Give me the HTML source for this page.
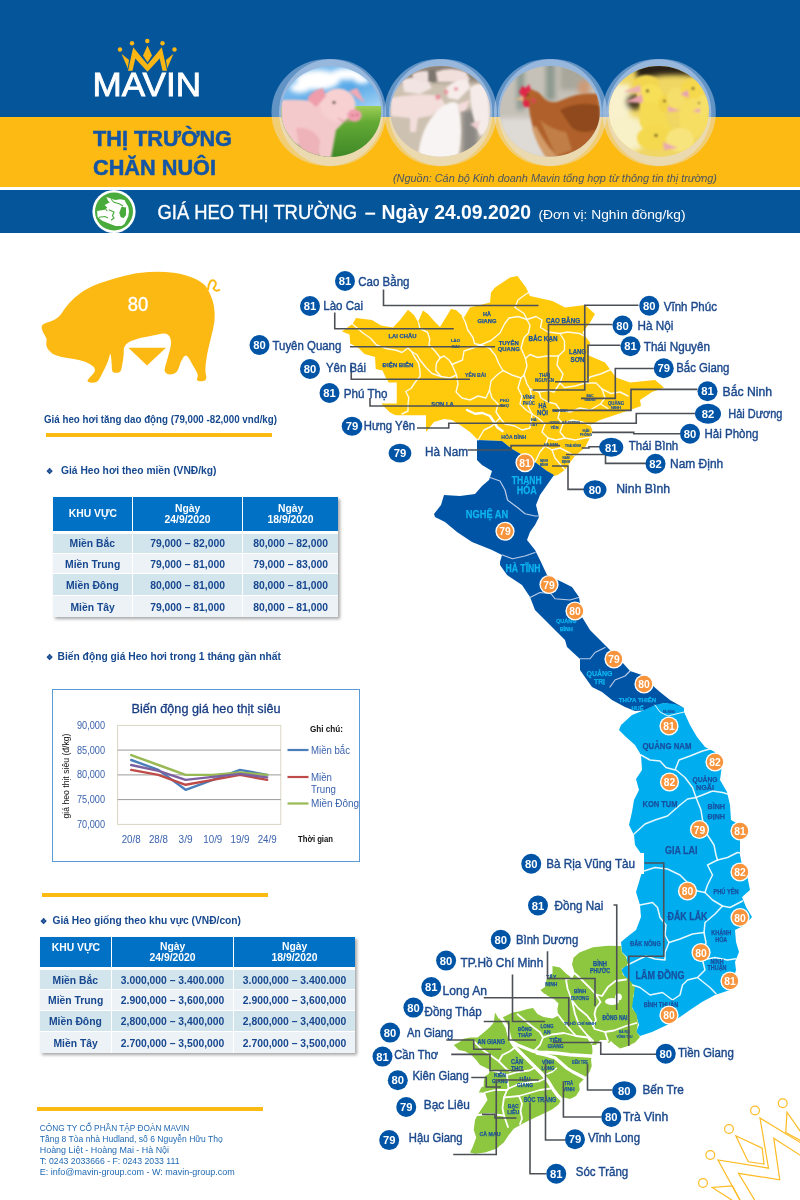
<!DOCTYPE html>
<html lang="vi">
<head>
<meta charset="utf-8">
<title>Mavin - Thị trường chăn nuôi - Giá heo thị trường 24.09.2020</title>
<style>
*{box-sizing:border-box;margin:0;padding:0}
html,body{width:800px;height:1200px;background:#fff;overflow:hidden}
body{font-family:"Liberation Sans",sans-serif;position:relative;color:#17478f}
.abs{position:absolute}
.c{display:inline-block;white-space:nowrap;transform-origin:0 50%}
#hd-blue{left:0;top:0;width:800px;height:117px;background:#05559b}
#hd-yel{left:0;top:117px;width:800px;height:70px;background:#fcba13}
#bar{left:0;top:190px;width:800px;height:43px;background:#05559b}
#mavin{left:92px;top:70px;font-size:31px;font-weight:bold;color:#fff;line-height:30px;letter-spacing:-0.5px}
#tt1,#tt2{left:93px;font-size:21.5px;font-weight:bold;color:#05559b;line-height:24px}
#tt1{top:127px}#tt2{top:155px}
#src{left:393px;top:171px;font-size:10.5px;font-style:italic;color:#4d5662;line-height:14px;letter-spacing:.3px}
#ttl{left:157px;top:200px;color:#fff;font-size:20px;line-height:24px}
#ttl b{font-weight:bold}
#ttl small{font-size:12.5px;font-weight:normal}
.h{font-size:11.5px;font-weight:bold;color:#17478f;line-height:14px}
.yl{height:4px;background:#fcba13}
table{border-collapse:separate;border-spacing:0;table-layout:fixed;box-shadow:2px 2px 3px rgba(0,0,0,.35)}
td,th{text-align:center;font-size:11.5px;font-weight:bold;color:#17478f;white-space:nowrap;overflow:hidden;padding:0}
th{background:#0071c5;color:#fff;line-height:11px;border-right:1.5px solid #fff;border-bottom:3.2px solid #fff}
td{border-right:1.5px solid #fff;border-bottom:1px solid #fff}
tr:nth-child(even) td{background:#d2e4ec}
tr:nth-child(odd) td{background:#ecf2f6}
th:last-child,td:last-child{border-right:0}
tr:last-child td{border-bottom:0}
td span,th span{display:inline-block;transform:scaleX(.9)}
#ft{left:40px;top:1122px;font-size:9.5px;line-height:11px;color:#1c6db5}
#ft span{display:block;white-space:nowrap;transform-origin:0 50%;transform:scaleX(.88)}
svg text{font-family:"Liberation Sans",sans-serif}
</style>
</head>
<body>
<!-- header -->
<div class="abs" id="hd-blue"></div>
<div class="abs" id="hd-yel"></div>
<div class="abs" id="bar"></div>

<!-- left column -->
<div class="abs yl" style="left:46px;top:433px;width:226px"></div>

<table class="abs" style="left:53px;top:497px;width:285px">
<colgroup><col style="width:80px"><col style="width:110px"><col style="width:95px"></colgroup>
<tr style="height:36.5px"><th><span>KHU VỰC</span></th><th><span>Ngày<br>24/9/2020</span></th><th><span>Ngày<br>18/9/2020</span></th></tr>
<tr style="height:20.4px"><td><span>Miền Bắc</span></td><td><span>79,000 – 82,000</span></td><td><span>80,000 – 82,000</span></td></tr>
<tr style="height:20.6px"><td><span>Miền Trung</span></td><td><span>79,000 – 81,000</span></td><td><span>79,000 – 83,000</span></td></tr>
<tr style="height:21.8px"><td><span>Miền Đông</span></td><td><span>80,000 – 81,000</span></td><td><span>80,000 – 81,000</span></td></tr>
<tr style="height:21.2px"><td><span>Miền Tây</span></td><td><span>79,000 – 81,000</span></td><td><span>80,000 – 81,000</span></td></tr>
</table>


<div class="abs yl" style="left:42px;top:893px;width:226px"></div>

<table class="abs" id="tb2" style="left:40px;top:937px;width:315px">
<colgroup><col style="width:72px"><col style="width:122px"><col style="width:121px"></colgroup>
<tr style="height:33.4px"><th style="vertical-align:top;padding-top:4.5px"><span>KHU VỰC</span></th><th><span>Ngày<br>24/9/2020</span></th><th><span>Ngày<br>18/9/2020</span></th></tr>
<tr style="height:19.4px"><td><span>Miền Bắc</span></td><td><span>3.000,000 – 3.400.000</span></td><td><span>3.000,000 – 3.400.000</span></td></tr>
<tr style="height:21.5px"><td><span>Miền Trung</span></td><td><span>2.900,000 – 3,600,000</span></td><td><span>2.900,000 – 3,600,000</span></td></tr>
<tr style="height:21px"><td><span>Miền Đông</span></td><td><span>2,800,000 – 3,400,000</span></td><td><span>2,800,000 – 3,400,000</span></td></tr>
<tr style="height:21px"><td><span>Miền Tây</span></td><td><span>2.700,000 – 3,500,000</span></td><td><span>2.700,000 – 3,500,000</span></td></tr>
</table>

<div class="abs yl" style="left:37px;top:1107px;width:226px"></div>

<!-- GRAPHICS -->
<svg class="abs" id="gfx" style="left:0;top:0" width="800" height="1200" viewBox="0 0 800 1200">
<defs>
<clipPath id="cp1"><ellipse cx="331.2" cy="111.6" rx="50" ry="45.3"/></clipPath>
<clipPath id="cp2"><ellipse cx="440.4" cy="111.4" rx="50" ry="45.3"/></clipPath>
<clipPath id="cp3"><ellipse cx="550" cy="111.4" rx="50" ry="45.3"/></clipPath>
<clipPath id="cp4"><ellipse cx="658.8" cy="111.4" rx="50" ry="45.3"/></clipPath>
<linearGradient id="sky" x1="0" y1="0" x2="1" y2="1"><stop offset="0" stop-color="#9ccdf3"/><stop offset=".6" stop-color="#56a8e8"/><stop offset="1" stop-color="#b9def7"/></linearGradient>
<linearGradient id="grass" x1="0" y1="0" x2="0" y2="1"><stop offset="0" stop-color="#9fce55"/><stop offset=".3" stop-color="#63aa35"/><stop offset="1" stop-color="#3c8526"/></linearGradient>
<filter id="b1" x="-20%" y="-20%" width="140%" height="140%"><feGaussianBlur stdDeviation="0.9"/></filter>
<filter id="b2" x="-20%" y="-20%" width="140%" height="140%"><feGaussianBlur stdDeviation="2.5"/></filter>
</defs>
<!-- translucent rings -->
<g fill="#e3e9ff" fill-opacity=".42">
<ellipse cx="327.5" cy="112.6" rx="56" ry="53.6"/><ellipse cx="332.5" cy="112.6" rx="53.5" ry="53.6"/>
<ellipse cx="438.4" cy="112.6" rx="54" ry="53.6"/><ellipse cx="442.9" cy="112.6" rx="54" ry="53.6"/>
<ellipse cx="548" cy="112.6" rx="54" ry="53.6"/><ellipse cx="552.5" cy="112.6" rx="54.5" ry="53.6"/>
<ellipse cx="656.8" cy="112.6" rx="54.5" ry="53.6"/><ellipse cx="661.3" cy="112.6" rx="54.5" ry="53.6"/>
</g>
<!-- photo 1 : pig on grass -->
<g clip-path="url(#cp1)">
<rect x="280" y="64" width="103" height="48" fill="url(#sky)"/>
<rect x="280" y="106" width="103" height="54" fill="url(#grass)"/>
<g filter="url(#b2)" fill="#fff"><ellipse cx="318" cy="80" rx="22" ry="10"/><ellipse cx="347" cy="74" rx="16" ry="6"/><ellipse cx="300" cy="88" rx="10" ry="5"/><ellipse cx="362" cy="80" rx="8" ry="4"/></g>
<g filter="url(#b1)">
<path d="M281 100 Q298 99 312 101 L326 96 L348 118 L336 130 L331 158 L319 158 L317 141 L305 149 L293 143 L281 126Z" fill="#f4c9cb"/>
<path d="M296 128 Q312 126 320 140 L318 158 L300 150Z" fill="#eeb2b9"/>
<ellipse cx="338" cy="105" rx="17.5" ry="16.5" fill="#f7d0d1"/>
<path d="M307 99 Q312 90 323 88 L326 96 L316 107 Z" fill="#ef9dab"/>
<path d="M349 91 L357 88 L365 103 L357 98 Z" fill="#f2a9b5"/>
<ellipse cx="354.5" cy="115.5" rx="7.2" ry="6.2" fill="#f19fb0"/>
<circle cx="352.5" cy="115.5" r="1" fill="#b5566c"/><circle cx="357" cy="115" r="1" fill="#b5566c"/>
<circle cx="334" cy="102.5" r="1.5" fill="#2a1c20"/>
<path d="M338 118 Q344 123 350 121" stroke="#d9899a" stroke-width="1" fill="none"/>
</g>
</g>
<!-- photo 2 : piglets -->
<g clip-path="url(#cp2)">
<rect x="389" y="64" width="103" height="96" fill="#cdc1b1"/>
<g filter="url(#b2)"><rect x="389" y="60" width="103" height="22" fill="#8e8378"/><rect x="462" y="110" width="16" height="50" fill="#8b8884"/></g>
<g filter="url(#b1)">
<path d="M391 98 Q420 92 440 96 L446 106 L430 116 L418 118 L416 132 L410 132 L410 118 L391 116Z" fill="#f3dedb"/>
<path d="M402 80 Q415 74 428 82 L432 88 L420 94 L404 92Z" fill="#f1e4e2"/>
<path d="M412 74 Q424 68 436 74 L430 84 L414 80Z" fill="#efe0de"/>
<path d="M436 72 Q450 66 466 72 L470 80 L452 82 L438 82Z" fill="#f1dfdc"/>
<path d="M446 88 Q456 78 468 80 L470 88 L458 100 L448 98Z" fill="#f6ecea"/>
<path d="M418 158 Q420 128 438 110 Q452 98 458 104 Q464 130 458 158Z" fill="#f8f4f3"/>
<path d="M470 88 Q480 80 486 88 Q492 110 488 132 L480 136 Q470 116 470 88Z" fill="#f5ecea"/>
<path d="M458 104 L470 100 L466 110 L460 112Z" fill="#f5dcdc"/>
<path d="M470 124 L480 120 L478 130Z" fill="#f0cfd0"/>
<circle cx="438" cy="97" r="2.6" fill="#e9909c"/><circle cx="446" cy="92" r="2.4" fill="#ea98a2"/><circle cx="456" cy="89" r="2" fill="#ea98a2"/>
<rect x="428" y="70" width="8" height="12" fill="#7d766e"/>
</g>
</g>
<!-- photo 3 : hen -->
<g clip-path="url(#cp3)">
<rect x="499" y="64" width="103" height="96" fill="#c6c1b8"/>
<g filter="url(#b2)"><rect x="499" y="118" width="60" height="44" fill="#dedad6"/><rect x="517" y="60" width="7" height="50" fill="#8a9a90"/><rect x="546" y="60" width="9" height="40" fill="#8b978d"/><rect x="560" y="60" width="30" height="30" fill="#a9a79c"/><ellipse cx="584" cy="88" rx="6" ry="8" fill="#cf9a74"/></g>
<g filter="url(#b1)">
<path d="M528 92 Q536 88 542 96 Q550 106 562 100 Q580 92 598 94 L602 128 Q598 150 582 160 L552 160 Q538 148 532 124 Q528 108 528 92Z" fill="#b0602b"/>
<path d="M560 110 Q580 100 600 106 L600 128 Q584 136 572 128Z" fill="#8f4a1e"/>
<path d="M536 126 Q548 150 562 160 L548 160 Q538 148 532 128Z" fill="#d19a66"/>
<path d="M540 120 Q552 130 566 132 L572 150 L556 156Z" fill="#c17f47"/>
<ellipse cx="530" cy="96" rx="6.5" ry="7" fill="#b4632c"/>
<path d="M519 92 L522 86 L526 88 L529 84 L531 90 L527 94 L524 100Z" fill="#e0284a"/>
<path d="M522 100 L529 100 L530 107 L524 107Z" fill="#dd2745"/>
<path d="M531 98 L536 100 L534 104Z" fill="#e63a5c"/>
<path d="M515 99 L523 96 L523 101Z" fill="#e6b88a"/>
<circle cx="527.5" cy="95" r="1" fill="#2a1a12"/>
</g>
</g>
<!-- photo 4 : ducklings -->
<g clip-path="url(#cp4)">
<rect x="608" y="64" width="103" height="96" fill="#f0d663"/>
<g filter="url(#b2)"><path d="M634 62 H694 V76 Q664 72 638 80Z" fill="#2a2212"/><rect x="606" y="84" width="24" height="60" fill="#f8f1cc"/><ellipse cx="628" cy="134" rx="20" ry="18" fill="#f8f0c6"/><ellipse cx="634" cy="102" rx="8" ry="8" fill="#4a3d20"/></g>
<g filter="url(#b1)">
<ellipse cx="646" cy="84" rx="13" ry="9" fill="#f2d650"/>
<ellipse cx="650" cy="96" rx="13" ry="12" fill="#f7df58"/>
<path d="M640 104 Q652 100 662 108 L672 130 L650 140 L640 124Z" fill="#f5da52"/>
<ellipse cx="666" cy="104" rx="8" ry="9" fill="#f3d548"/>
<ellipse cx="676" cy="98" rx="9" ry="11" fill="#f6de6a"/>
<ellipse cx="692" cy="90" rx="11" ry="11" fill="#f5d84c"/>
<ellipse cx="694" cy="118" rx="15" ry="20" fill="#f6de62"/>
<ellipse cx="703" cy="106" rx="7" ry="11" fill="#f7e068"/>
<ellipse cx="654" cy="138" rx="17" ry="12" fill="#f4d84e"/>
<ellipse cx="680" cy="140" rx="14" ry="12" fill="#f7e47c"/>
<path d="M623 92 L640 85 L641 93Z" fill="#eeb0b0"/><path d="M625 102 L642 94 L643 103Z" fill="#e9a3ac"/>
<path d="M663 142 L678 148 L664 150Z" fill="#ebaaae"/><path d="M668 106 L680 111 L668 112Z" fill="#ebaaae"/><path d="M688 90 L680 94 L689 98Z" fill="#e7a3b0"/><path d="M700 108 L692 111 L700 113Z" fill="#ebaaae"/>
<circle cx="647.5" cy="91" r="1.4" fill="#2a2214"/><circle cx="664.5" cy="101" r="1.2" fill="#2a2214"/><circle cx="656" cy="135.5" r="1.4" fill="#2a2214"/><circle cx="693" cy="88.5" r="1.3" fill="#2a2214"/><circle cx="699" cy="103" r="1" fill="#2a2214"/>
</g>
</g>

<g fill="#fab615">
<polygon points="128,70.8 133.2,47.2 147.5,64.5 161.8,47.2 167,70.8 162.5,70.8 159.7,58.5 147.5,71.8 135.3,58.5 132.5,70.8"/>
<polygon points="147.5,45.5 143,55.5 147.5,62.5 152,55.5"/>
<polygon points="121.5,53.8 129,60 127.8,68.5"/><polygon points="173.5,53.8 166,60 167.2,68.5"/>
<circle cx="120" cy="49.5" r="2.2"/><circle cx="132" cy="43.2" r="2.2"/><circle cx="147.3" cy="41" r="2.2"/><circle cx="162.5" cy="43.2" r="2.2"/><circle cx="174.5" cy="49.5" r="2.2"/>
</g>
<!-- bar icon -->
<circle cx="114" cy="211.5" r="21.6" fill="#fff"/>
<circle cx="114" cy="211.5" r="19" fill="#4aab3d"/>
<g transform="translate(84,185) scale(0.075)">
<path d="M175 345 L180 420 L215 455 L250 480 L300 500 L350 520 L420 545 L500 545 L540 520 L560 480 L590 420 L600 350 L590 290 L560 240 L540 200 L480 190 L420 200 L380 190 L300 160 L320 210 L345 230 L275 265 L310 300 L280 330Z" fill="#fff"/>
<path d="M500 290 L560 300 L560 400 L530 440 L490 430 L470 370Z" fill="#4aab3d"/>
<path d="M360 190 L400 230 L470 250 L520 280" stroke="#4aab3d" stroke-width="14" fill="none"/>
<path d="M200 430 L280 420 L320 440" stroke="#4aab3d" stroke-width="14" fill="none"/>
<path d="M330 330 L400 360 L380 410 L400 440 L360 470" stroke="#4aab3d" stroke-width="16" fill="none"/>
<path d="M290 320 L310 350" stroke="#4aab3d" stroke-width="14" fill="none"/>
</g>

<g font-weight="bold">
<text x="92.5" y="96.4" font-size="32.5" font-weight="normal" stroke="#fff" stroke-width=".8" fill="#fff" textLength="108.5" lengthAdjust="spacingAndGlyphs">MAVIN</text>
<text x="93" y="146" font-size="21.8" fill="#1455a5" stroke="#1455a5" stroke-width=".5" textLength="139" lengthAdjust="spacingAndGlyphs">THỊ TRƯỜNG</text>
<text x="93" y="175" font-size="21.8" fill="#1455a5" stroke="#1455a5" stroke-width=".5" textLength="123" lengthAdjust="spacingAndGlyphs">CHĂN NUÔI</text>
<text x="381.5" y="219.3" font-size="19.8" fill="#fff" textLength="149.5" lengthAdjust="spacingAndGlyphs">Ngày 24.09.2020</text>
<text x="44" y="422.8" font-size="11" fill="#15488f" textLength="233" lengthAdjust="spacingAndGlyphs">Giá heo hơi tăng dao động (79,000 -82,000 vnd/kg)</text>
<text x="46.2" y="474" font-size="8" fill="#15488f">❖</text>
<text x="61" y="474" font-size="11" fill="#15488f" textLength="155.5" lengthAdjust="spacingAndGlyphs">Giá Heo hơi theo miền (VNĐ/kg)</text>
<text x="46.2" y="660" font-size="8" fill="#15488f">❖</text>
<text x="57.5" y="660" font-size="11" fill="#15488f" textLength="223.5" lengthAdjust="spacingAndGlyphs">Biến động giá Heo hơi trong 1 tháng gần nhất</text>
<text x="39.5" y="924" font-size="8" fill="#15488f">❖</text>
<text x="52.5" y="924" font-size="11" fill="#15488f" textLength="188.5" lengthAdjust="spacingAndGlyphs">Giá Heo giống theo khu vực (VNĐ/con)</text>
</g>
<text x="157.5" y="219.3" font-size="19.8" fill="#fff" stroke="#fff" stroke-width=".35" textLength="199.5" lengthAdjust="spacingAndGlyphs">GIÁ HEO THỊ TRƯỜNG</text>
<text x="365.4" y="219.3" font-size="19.8" fill="#fff" stroke="#fff" stroke-width=".35" textLength="9.5" lengthAdjust="spacingAndGlyphs">–</text>
<text x="538.5" y="219" font-size="12" fill="#fff" textLength="147" lengthAdjust="spacingAndGlyphs">(Đơn vị: Nghìn đồng/kg)</text>
<text x="393" y="181.8" font-size="10.5" font-style="italic" fill="#4b5560" textLength="324" lengthAdjust="spacingAndGlyphs">(Nguồn: Cán bộ Kinh doanh Mavin tổng hợp từ thông tin thị trường)</text>
<g font-size="9.5" fill="#1f68b2">
<text x="39.75" y="1131.3" textLength="149.5" lengthAdjust="spacingAndGlyphs">CÔNG TY CỔ PHẦN TẬP ĐOÀN MAVIN</text>
<text x="39.75" y="1142.3" textLength="183" lengthAdjust="spacingAndGlyphs">Tầng 8 Tòa nhà Hudland, số 6 Nguyễn Hữu Thọ</text>
<text x="39.75" y="1153" textLength="129.3" lengthAdjust="spacingAndGlyphs">Hoàng Liệt - Hoàng Mai - Hà Nội</text>
<text x="39.75" y="1164.3" textLength="139.8" lengthAdjust="spacingAndGlyphs">T: 0243 2033666 - F: 0243 2033 111</text>
<text x="39.75" y="1175.3" textLength="195" lengthAdjust="spacingAndGlyphs">E: info@mavin-group.com -  W: mavin-group.com</text>
</g>

<g fill="#fdb913">
<path d="M41.7 328.3Q40.9 324.4 46.4 322.8Q51.9 321.2 55.8 318.9Q59.7 316.6 62.0 312.7Q64.4 308.8 69.1 303.3Q73.8 297.8 81.6 292.3Q89.4 286.9 100.3 283.0Q111.2 279.1 123.8 275.9Q136.2 272.8 148.8 272.0Q161.2 271.2 173.8 272.8Q186.2 274.4 195.6 279.1Q205.0 283.8 207.8 289.2Q210.6 294.7 212.5 300.2Q214.4 305.6 214.7 313.4Q215.0 321.2 213.1 329.1Q211.2 336.9 208.9 346.2Q206.6 355.6 205.8 363.4Q205.0 371.2 205.9 374.4Q206.9 377.5 205.9 379.4Q205.0 381.2 200.3 381.2Q195.6 381.2 197.2 378.1Q198.8 375.0 195.6 370.0Q192.5 365.0 189.4 359.1Q186.2 353.1 183.4 357.2Q180.6 361.2 178.8 367.8Q176.9 374.4 169.8 374.4Q162.8 374.4 165.2 366.6Q167.5 358.8 169.8 350.2Q172.2 341.6 169.8 336.9Q167.5 332.2 161.2 333.8Q155.0 335.3 145.6 336.9Q136.2 338.4 130.0 341.6Q123.8 344.7 123.8 350.2Q123.8 355.6 123.0 360.3Q122.2 365.0 121.4 368.9Q120.6 372.8 116.2 372.8Q111.9 372.8 111.9 368.9Q111.9 365.0 111.2 358.0Q110.6 350.9 109.4 356.4Q108.1 361.9 105.0 368.1Q101.9 374.4 99.5 378.8Q97.2 383.1 91.7 382.7Q86.2 382.2 87.8 379.8Q89.4 377.5 92.5 374.4Q95.6 371.2 94.8 368.9Q94.1 366.6 90.2 364.2Q86.2 361.9 80.0 360.3Q73.8 358.8 67.5 358.0Q61.2 357.2 56.6 355.6Q51.9 354.1 48.8 350.2Q45.6 346.2 46.4 342.3Q47.2 338.4 44.8 335.3Q42.5 332.2 41.7 328.3Z"/>
<polygon points="128.4,347.8 166,347.8 147,365.6"/>
</g>
<path d="M208 290 Q209 279 214 280.5 Q218 283 213.5 288.5 Q216 292.5 220 289.5" fill="none" stroke="#fdb913" stroke-width="2"/>
<text x="138" y="311" font-size="20" fill="#fff" stroke="#fff" stroke-width=".4" text-anchor="middle" textLength="20.5" lengthAdjust="spacingAndGlyphs">80</text>

<rect x="52.5" y="689.5" width="307" height="172" fill="#fff" stroke="#5b9bd5" stroke-width="1"/>
<rect x="117.6" y="725.4" width="163.2" height="99.0" fill="#fff" stroke="#d9d5c3" stroke-width="1"/>
<line x1="117.6" x2="280.8" y1="799.6" y2="799.6" stroke="#9a9a9a" stroke-width="1"/>
<line x1="117.6" x2="280.8" y1="774.9" y2="774.9" stroke="#9a9a9a" stroke-width="1"/>
<line x1="117.6" x2="280.8" y1="750.1" y2="750.1" stroke="#9a9a9a" stroke-width="1"/>
<polyline points="131.2,760.0 158.4,769.9 185.6,789.8 212.8,779.9 240.0,769.9 267.2,774.9" fill="none" stroke="#4a7ebb" stroke-width="2.4" stroke-linejoin="round" stroke-linecap="round"/>
<polyline points="131.2,769.9 158.4,774.9 185.6,784.8 212.8,779.9 240.0,774.9 267.2,779.9" fill="none" stroke="#be4b48" stroke-width="2.4" stroke-linejoin="round" stroke-linecap="round"/>
<polyline points="131.2,755.1 158.4,765.0 185.6,774.9 212.8,774.9 240.0,772.4 267.2,774.9" fill="none" stroke="#98b954" stroke-width="2.4" stroke-linejoin="round" stroke-linecap="round"/>
<polyline points="131.2,765.0 158.4,770.9 185.6,779.9 212.8,776.9 240.0,773.9 267.2,777.4" fill="none" stroke="#7d60a0" stroke-width="2.4" stroke-linejoin="round" stroke-linecap="round"/>
<text x="206" y="712.5" font-size="13.5" fill="#163b82" text-anchor="middle" textLength="149" lengthAdjust="spacingAndGlyphs" stroke="#163b82" stroke-width=".3">Biến động giá heo thịt siêu</text>
<text x="105" y="728.9" font-size="10" fill="#3a62ad" text-anchor="end" textLength="28" lengthAdjust="spacingAndGlyphs">90,000</text>
<text x="105" y="753.6" font-size="10" fill="#3a62ad" text-anchor="end" textLength="28" lengthAdjust="spacingAndGlyphs">85,000</text>
<text x="105" y="778.4" font-size="10" fill="#3a62ad" text-anchor="end" textLength="28" lengthAdjust="spacingAndGlyphs">80,000</text>
<text x="105" y="803.1" font-size="10" fill="#3a62ad" text-anchor="end" textLength="28" lengthAdjust="spacingAndGlyphs">75,000</text>
<text x="105" y="827.9" font-size="10" fill="#3a62ad" text-anchor="end" textLength="28" lengthAdjust="spacingAndGlyphs">70,000</text>
<text x="131.2" y="842.5" font-size="10" fill="#3a62ad" text-anchor="middle" textLength="19" lengthAdjust="spacingAndGlyphs">20/8</text>
<text x="158.4" y="842.5" font-size="10" fill="#3a62ad" text-anchor="middle" textLength="19" lengthAdjust="spacingAndGlyphs">28/8</text>
<text x="185.6" y="842.5" font-size="10" fill="#3a62ad" text-anchor="middle" textLength="14" lengthAdjust="spacingAndGlyphs">3/9</text>
<text x="212.8" y="842.5" font-size="10" fill="#3a62ad" text-anchor="middle" textLength="19" lengthAdjust="spacingAndGlyphs">10/9</text>
<text x="240.0" y="842.5" font-size="10" fill="#3a62ad" text-anchor="middle" textLength="19" lengthAdjust="spacingAndGlyphs">19/9</text>
<text x="267.2" y="842.5" font-size="10" fill="#3a62ad" text-anchor="middle" textLength="19" lengthAdjust="spacingAndGlyphs">24/9</text>
<text x="298" y="842" font-size="9" font-weight="bold" fill="#111" textLength="35" lengthAdjust="spacingAndGlyphs">Thời gian</text>
<text x="310" y="732" font-size="9" font-weight="bold" fill="#111" textLength="33" lengthAdjust="spacingAndGlyphs">Ghi chú:</text>
<text transform="translate(68.5,776) rotate(-90)" font-size="9" fill="#111" text-anchor="middle" textLength="85" lengthAdjust="spacingAndGlyphs">giá heo thịt siêu (đ/kg)</text>
<line x1="287.5" x2="308.5" y1="750" y2="750" stroke="#4a7ebb" stroke-width="2.2"/>
<text x="311" y="753.8" font-size="10.5" fill="#3a62ad" textLength="39" lengthAdjust="spacingAndGlyphs">Miền bắc</text>
<line x1="287.5" x2="308.5" y1="777" y2="777" stroke="#be4b48" stroke-width="2.2"/>
<text x="311" y="780.8" font-size="10.5" fill="#3a62ad" textLength="21" lengthAdjust="spacingAndGlyphs">Miền</text>
<text x="311" y="793.3" font-size="10.5" fill="#3a62ad" textLength="25" lengthAdjust="spacingAndGlyphs">Trung</text>
<line x1="287.5" x2="308.5" y1="803.5" y2="803.5" stroke="#98b954" stroke-width="2.2"/>
<text x="311" y="807.3" font-size="10.5" fill="#3a62ad" textLength="48" lengthAdjust="spacingAndGlyphs">Miền Đông</text>

<g stroke-linejoin="round">
<polygon points="356,318 372,320 381,325.5 393,327.5 400,320 408,309.75 414,315 418,322 423,310.5 428,314 434,321 440,327 451,309 456,310 464,317.5 470,307.5 480,305 490,302.5 491,292.5 495,287.5 510,277.5 517.5,276 526,287.5 530,296 552.5,301 565,307.5 585,305 595,314 590,322.5 582.5,332.5 590,342.5 587.5,355 605,362.5 616,377.5 630,382.5 655,380 664,387.5 652,392 640,400 641,406 630,410 615,415 600,420 590,425 592.5,430 590,437.5 585,447.5 575,456 570,462.5 565,470 557.5,475 554,476 547,471 535,462 512,449 502,441 478,440 470,432 460,425 452,420 444,419 434,422 426,432 426,415.5 396,415.5 390,412.5 382.5,405 380,400 382,392 388.5,381.75 386,378 382.5,370.5 375.75,369 375,357 364.5,354 358.5,348 350.25,343.5 349.5,334.5 342,331.5 348,327 352.5,324" fill="#ffc90c"/>
<polygon points="477,440 502,441 512,449 535,462 547,471 554,475 547,485 540,495 536,505 539,517 535,525 530,532 527,540 535,550 540,560 547,575 562,582 572,587 579,597 582,617 590,630 600,640 610,650 622,662 630,671 642,675 652,685 660,692 670,700 677,704 684,708 675,705 664,703 656,706 650,710 635,711 625,707 612,700 602,692 592,687 587,680 580,670 580,659 567,647 565,640 557,632 547,622 535,610 530,597 522,585 507,575 500,565 500,562 502,555 492,550 472,542 457,532 445,522 435,517 434,514 441,505 444,495 460,496 475,494 482,486 489,480 492,471 482,465 477,460" fill="#0054a6"/>
<polygon points="655,705 664,703 675,704 684,708 684,712 690,725 697,737 705,747 715,752 722,765 720,780 727,792 730,805 731,820 740,825 740,842 740,855 742,865 747,875 750,890 742,897 746,907 752,917 745,925 735,930 736,942 739,952 735,962 736,970 730,990 715,995 702,1002 690,1010 680,1017 667,1025 652,1032 640,1036 636,1032 639,1025 636,1015 631,1005 634,995 632,985 625,977 621,970 626,965 627,957 622,952 621,942 627,937 636,930 641,917 640,905 636,892 639,882 642,872 644,860 642,855 635,845 634,835 629,825 632,812 634,800 639,790 636,779 642,770 641,755 635,745 626,737 619,730 621,725 632,715 642,711" fill="#00aeef"/>
<polygon points="573.5,957.75 579.5,952.5 593,947.25 608,945.75 621,946 622,952.5 626,957 628.25,964.5 621.5,969 623,975 629,979.5 635,987 633.5,996 632,1008 636.5,1014 638,1023 636.5,1032 640,1037 635,1042.5 628,1046 620,1048.5 614,1044 611,1041 608,1044 607,1040 600,1040 596,1045 592,1045 592.5,1051 591.75,1057 591,1060 591.75,1066 589.5,1072 585,1078 581,1082 579,1084 579.75,1090 576,1096 570,1099 564,1097.5 561,1100.5 558,1105 552,1109.5 546,1112.5 532.5,1118.75 522.5,1123.75 513.75,1128.75 508.75,1135 503.75,1142.5 496.25,1148.75 485,1152.5 475,1153.75 470,1152.5 472.5,1147.5 476.25,1137.5 473.75,1130 475,1120 477.5,1115 482.5,1107.5 487.5,1100 485,1092.5 478.75,1092.5 481.25,1087.5 483.75,1086.25 483.75,1081.25 485,1076.25 488.75,1073.75 490,1070 486.25,1068 480,1065 476.25,1060 471.25,1055 465,1051.25 458.75,1050 453.75,1045 458.75,1042.5 463.75,1038.75 470,1037.5 477.5,1037.5 483.75,1032.5 490,1026.9 493.75,1022.5 495,1012.5 498.75,1018.75 505,1016.25 512.5,1012.5 520,1011.25 527.5,1008.9 533,1008 537.5,1014 543.5,1017 552.5,1018.5 558.5,1015.5 557,1011 558.5,1003.5 554,999 545,994.5 540.5,990 545,987 546.5,979.5 552.5,973.5 552.5,966 560,967.5 566,973.5 572,978 575,973.5 572,964.5" fill="#8dc63f"/>
</g>
<polyline points="352.5,324 363,333 370.5,338.25 376.5,345 387,348.75 396,350.25 402,352.5 408,348 411.75,351.75 414,356.25 418.5,363 420,370.5 420,376.5 415.5,381.75 411,388.5 405.75,391.5 408.75,397.5 408,405 408,411 402,414" fill="none" stroke="#fff" stroke-width="1.4" stroke-opacity="0.9" stroke-linejoin="round" stroke-linecap="round"/>
<polyline points="418.5,322.5 420,328.5 427.5,332.25 429.75,339 429,345 435,351 440.25,357.75 444,356 449,360 452,364.5 462.5,360 464,351 473,348 480.5,345" fill="none" stroke="#fff" stroke-width="1.4" stroke-opacity="0.9" stroke-linejoin="round" stroke-linecap="round"/>
<polyline points="411.75,351.75 417,354.75 420,360 426,367.5 432,373.5 441,376.5 450,378 456.5,375 452,364.5" fill="none" stroke="#fff" stroke-width="1.4" stroke-opacity="0.9" stroke-linejoin="round" stroke-linecap="round"/>
<polyline points="440.25,357.75 436.5,363 435.75,370.5 441,376.5" fill="none" stroke="#fff" stroke-width="1.4" stroke-opacity="0.9" stroke-linejoin="round" stroke-linecap="round"/>
<polyline points="456.5,375 458,384 456,392 462,398 470,400 478,396 486,398 489.5,390" fill="none" stroke="#fff" stroke-width="1.4" stroke-opacity="0.9" stroke-linejoin="round" stroke-linecap="round"/>
<polyline points="462.5,316.5 465.5,322.5 467.75,330 473,337.5 474.5,343.5 480.5,345" fill="none" stroke="#fff" stroke-width="1.4" stroke-opacity="0.9" stroke-linejoin="round" stroke-linecap="round"/>
<polyline points="480.5,345 491,340.5 500,333 504.5,324 509,318 518,316.5 527,319.5" fill="none" stroke="#fff" stroke-width="1.4" stroke-opacity="0.9" stroke-linejoin="round" stroke-linecap="round"/>
<polyline points="527,319.5 524,313.5 515,307.5 518,300 524,295.5 528.5,292.5" fill="none" stroke="#fff" stroke-width="1.4" stroke-opacity="0.9" stroke-linejoin="round" stroke-linecap="round"/>
<polyline points="527,319.5 536,316.5 542,320 540.5,327.5 548,332 560,333.5 567.5,332 579.5,333.5 585.5,336.5" fill="none" stroke="#fff" stroke-width="1.4" stroke-opacity="0.9" stroke-linejoin="round" stroke-linecap="round"/>
<polyline points="527,319.5 530,325.5 528.5,333 524,337.5 521,348 525.5,358.5 527,366 524,375" fill="none" stroke="#fff" stroke-width="1.4" stroke-opacity="0.9" stroke-linejoin="round" stroke-linecap="round"/>
<polyline points="480.5,345 489.5,348 495.5,355.5 498.5,363 503,370.5 497,375 491,381 489.5,390 492,398 498,404 496,412 500,418" fill="none" stroke="#fff" stroke-width="1.4" stroke-opacity="0.9" stroke-linejoin="round" stroke-linecap="round"/>
<polyline points="503,370.5 512,375 521,378 524,375 527,384 530,389 539,392 548,390.5 554,392 560,383" fill="none" stroke="#fff" stroke-width="1.4" stroke-opacity="0.9" stroke-linejoin="round" stroke-linecap="round"/>
<polyline points="525.5,358.5 530,354.5 537.5,357.5 546.5,356 558.5,356" fill="none" stroke="#fff" stroke-width="1.4" stroke-opacity="0.9" stroke-linejoin="round" stroke-linecap="round"/>
<polyline points="560,333.5 564.5,341 564.5,350 558.5,356 557,365 563,374 560,383 564.5,387.5 575,386 585.5,383 596,383 602,389 611,393.5 620,392 628,396" fill="none" stroke="#fff" stroke-width="1.4" stroke-opacity="0.9" stroke-linejoin="round" stroke-linecap="round"/>
<polyline points="585.5,383 590,377 600.5,374 611,369.5" fill="none" stroke="#fff" stroke-width="1.4" stroke-opacity="0.9" stroke-linejoin="round" stroke-linecap="round"/>
<polyline points="602,389 605,398 600.5,404 608,408.5" fill="none" stroke="#fff" stroke-width="1.4" stroke-opacity="0.9" stroke-linejoin="round" stroke-linecap="round"/>
<polyline points="530,389 532,398 528,406 532,414 538,418 545,424 542,432 548,438 545,446 540,452 535,462" fill="none" stroke="#fff" stroke-width="1.4" stroke-opacity="0.9" stroke-linejoin="round" stroke-linecap="round"/>
<polyline points="521,378 518,388 522,396 520,404 526,410 532,414" fill="none" stroke="#fff" stroke-width="1.4" stroke-opacity="0.9" stroke-linejoin="round" stroke-linecap="round"/>
<polyline points="539,392 541,398 548,402 556,404 560,410 570,412 580,408 590,410 600.5,404" fill="none" stroke="#fff" stroke-width="1.4" stroke-opacity="0.9" stroke-linejoin="round" stroke-linecap="round"/>
<polyline points="560,410 558,418 563,424 560,432 565,438 575,440 585,438 590,437.5" fill="none" stroke="#fff" stroke-width="1.4" stroke-opacity="0.9" stroke-linejoin="round" stroke-linecap="round"/>
<polyline points="548,438 556,440 565,438" fill="none" stroke="#fff" stroke-width="1.4" stroke-opacity="0.9" stroke-linejoin="round" stroke-linecap="round"/>
<polyline points="545,446 552,450 560,448 568,452 575,456" fill="none" stroke="#fff" stroke-width="1.4" stroke-opacity="0.9" stroke-linejoin="round" stroke-linecap="round"/>
<polyline points="552,450 555,458 560,464 565,470" fill="none" stroke="#fff" stroke-width="1.4" stroke-opacity="0.9" stroke-linejoin="round" stroke-linecap="round"/>
<polyline points="500,418 505,424 515,426 522,430 530,428 532,414" fill="none" stroke="#fff" stroke-width="1.4" stroke-opacity="0.9" stroke-linejoin="round" stroke-linecap="round"/>
<polyline points="500,418 492,426 484,430 478,440" fill="none" stroke="#fff" stroke-width="1.4" stroke-opacity="0.9" stroke-linejoin="round" stroke-linecap="round"/>
<polyline points="563,424 572,420 582,422 590,425" fill="none" stroke="#fff" stroke-width="1.4" stroke-opacity="0.9" stroke-linejoin="round" stroke-linecap="round"/>
<polyline points="467,410 475,413.75 482.5,413 490,416 497.5,427.5 502.5,431" fill="none" stroke="#fff" stroke-width="2.4" stroke-opacity="1" stroke-linejoin="round" stroke-linecap="round"/>
<polyline points="490,477.5 500,481 505,490 507.5,500 517.5,507.5 525,513.75 535,516 538.75,516" fill="none" stroke="#b9cbe6" stroke-width="1.2" stroke-opacity="1" stroke-linejoin="round" stroke-linecap="round"/>
<polyline points="502.5,555 512.5,558.75 525,556 535,552.5" fill="none" stroke="#b9cbe6" stroke-width="1.2" stroke-opacity="1" stroke-linejoin="round" stroke-linecap="round"/>
<polyline points="530,597.5 540,592.5 551,593.75 555,598.75 570,600 578.75,597.5" fill="none" stroke="#b9cbe6" stroke-width="1.2" stroke-opacity="1" stroke-linejoin="round" stroke-linecap="round"/>
<polyline points="580,658.75 590,658.75 595,652.5 605,647.5" fill="none" stroke="#b9cbe6" stroke-width="1.2" stroke-opacity="1" stroke-linejoin="round" stroke-linecap="round"/>
<polyline points="610,687 615,680 625,676 630,671" fill="none" stroke="#b9cbe6" stroke-width="1.2" stroke-opacity="1" stroke-linejoin="round" stroke-linecap="round"/>
<polyline points="641,755 650,760 660,761 666,767.5 675,770 679,760 690,756 702.5,751 710,749" fill="none" stroke="#fff" stroke-width="1.5" stroke-opacity="0.9" stroke-linejoin="round" stroke-linecap="round"/>
<polyline points="676,770 685,777.5 692.5,787.5 696,797.5" fill="none" stroke="#fff" stroke-width="1.5" stroke-opacity="0.9" stroke-linejoin="round" stroke-linecap="round"/>
<polyline points="696,797.5 705,794 712.5,791 722.5,792.5 727.5,794" fill="none" stroke="#fff" stroke-width="1.5" stroke-opacity="0.9" stroke-linejoin="round" stroke-linecap="round"/>
<polyline points="634,834 645,824 655,820 667.5,816 680,805 687.5,799 696,797.5" fill="none" stroke="#fff" stroke-width="1.5" stroke-opacity="0.9" stroke-linejoin="round" stroke-linecap="round"/>
<polyline points="696,797.5 701,810 702.5,820 707.5,835 714,845 716,855 717.5,860" fill="none" stroke="#fff" stroke-width="1.5" stroke-opacity="0.9" stroke-linejoin="round" stroke-linecap="round"/>
<polyline points="717.5,860 727.5,857.5 737.5,852.5 741,853" fill="none" stroke="#fff" stroke-width="1.5" stroke-opacity="0.9" stroke-linejoin="round" stroke-linecap="round"/>
<polyline points="717.5,860 707.5,865 712.5,875 707.5,885 705,892.5 712.5,900 722.5,906 730,907.5 742.5,901" fill="none" stroke="#fff" stroke-width="1.5" stroke-opacity="0.9" stroke-linejoin="round" stroke-linecap="round"/>
<polyline points="644,871 655,867.5 667.5,869 680,875 687.5,882.5 697.5,891 705,892.5" fill="none" stroke="#fff" stroke-width="1.5" stroke-opacity="0.9" stroke-linejoin="round" stroke-linecap="round"/>
<polyline points="722.5,906 715,914 705,922.5 704,932.5 706,942.5 702.5,960 705,970 697.5,977.5 687.5,980 682.5,985 680,995 672.5,1000 662.5,992.5 650,995 640,987.5 632.5,985" fill="none" stroke="#fff" stroke-width="1.5" stroke-opacity="0.9" stroke-linejoin="round" stroke-linecap="round"/>
<polyline points="704,932.5 692.5,934 680,939 669,942.5 665,935 666,925 660,917.5 657.5,907.5 652.5,902.5 640,905" fill="none" stroke="#fff" stroke-width="1.5" stroke-opacity="0.9" stroke-linejoin="round" stroke-linecap="round"/>
<polyline points="669,942.5 665,952.5 665,960 655,959 646,956 637.5,960 627.5,965" fill="none" stroke="#fff" stroke-width="1.5" stroke-opacity="0.9" stroke-linejoin="round" stroke-linecap="round"/>
<polyline points="702.5,960 715,957.5 727.5,960 736,958.75" fill="none" stroke="#fff" stroke-width="1.5" stroke-opacity="0.9" stroke-linejoin="round" stroke-linecap="round"/>
<polyline points="697.5,977.5 710,987.5 716,993.75" fill="none" stroke="#fff" stroke-width="1.5" stroke-opacity="0.9" stroke-linejoin="round" stroke-linecap="round"/>
<polyline points="655,705 660,712 668,716 676,714 684,712" fill="none" stroke="#fff" stroke-width="1.0" stroke-opacity="0.9" stroke-linejoin="round" stroke-linecap="round"/>
<polyline points="499.5,1015 507,1027 510,1039 514.5,1046.5 520.5,1052.5 528,1060 535.5,1067.5 543,1075 549,1082.5 553.5,1090 558,1096 563,1101" fill="none" stroke="#fff" stroke-width="3.4" stroke-opacity="1" stroke-linejoin="round" stroke-linecap="round"/>
<polyline points="512,1042 517.5,1045 525,1048 532.5,1051 540,1052.5 547.5,1052.5 558,1053.25 570,1054.75 582,1055.5 593,1056.25" fill="none" stroke="#fff" stroke-width="3.4" stroke-opacity="1" stroke-linejoin="round" stroke-linecap="round"/>
<polyline points="537,1053.25 544.5,1054.75 555,1057.75 561,1063 567,1068.25 573,1072 582,1076.5 588,1080" fill="none" stroke="#fff" stroke-width="3.2" stroke-opacity="1" stroke-linejoin="round" stroke-linecap="round"/>
<polyline points="556.5,1068.25 552,1072 546,1074.25" fill="none" stroke="#fff" stroke-width="1.6" stroke-opacity="1" stroke-linejoin="round" stroke-linecap="round"/>
<polyline points="473.75,1041.25 481.25,1048.75 490,1055 498.75,1061.25 506.25,1068.75 510,1071.25" fill="none" stroke="#fff" stroke-width="1.8" stroke-opacity="1" stroke-linejoin="round" stroke-linecap="round"/>
<polyline points="498.75,1061.25 502.5,1055 510,1051.25 515,1047.5" fill="none" stroke="#fff" stroke-width="1.8" stroke-opacity="1" stroke-linejoin="round" stroke-linecap="round"/>
<polyline points="490,1070 498,1072 507,1075 517.5,1072 529.5,1070.5 535.5,1067.5" fill="none" stroke="#fff" stroke-width="1.8" stroke-opacity="1" stroke-linejoin="round" stroke-linecap="round"/>
<polyline points="507,1075 508.5,1088.5 507,1090 504,1097.5 502.5,1108 504,1115.5 508,1127" fill="none" stroke="#fff" stroke-width="1.8" stroke-opacity="1" stroke-linejoin="round" stroke-linecap="round"/>
<polyline points="485,1092.5 495,1090 507,1090" fill="none" stroke="#fff" stroke-width="1.8" stroke-opacity="1" stroke-linejoin="round" stroke-linecap="round"/>
<polyline points="477.5,1115 490,1114 504,1115.5" fill="none" stroke="#fff" stroke-width="1.8" stroke-opacity="1" stroke-linejoin="round" stroke-linecap="round"/>
<polyline points="508.5,1088.5 519,1084 529.5,1082.5 540,1081 546,1078" fill="none" stroke="#fff" stroke-width="1.8" stroke-opacity="1" stroke-linejoin="round" stroke-linecap="round"/>
<polyline points="504,1097.5 519,1096 529.5,1093 540,1090 550.5,1088.5" fill="none" stroke="#fff" stroke-width="1.8" stroke-opacity="1" stroke-linejoin="round" stroke-linecap="round"/>
<polyline points="519,1096 522,1103.5 520.5,1111 522,1118.5 520,1124" fill="none" stroke="#fff" stroke-width="1.8" stroke-opacity="1" stroke-linejoin="round" stroke-linecap="round"/>
<polyline points="517.5,1014.25 531,1025.5 540,1032.25 543,1037.5 540,1045 535.5,1049.5" fill="none" stroke="#fff" stroke-width="1.8" stroke-opacity="1" stroke-linejoin="round" stroke-linecap="round"/>
<polyline points="543,1037.5 552,1034.5 564,1033 576,1036 588,1037.5 591.75,1043.5" fill="none" stroke="#fff" stroke-width="1.8" stroke-opacity="1" stroke-linejoin="round" stroke-linecap="round"/>
<polyline points="556,1012 562,1020 568,1027 576,1036" fill="none" stroke="#fff" stroke-width="1.8" stroke-opacity="1" stroke-linejoin="round" stroke-linecap="round"/>
<polyline points="575,973.5 582,980 590,988 596,994.5 602,996 608,987 615.5,981 626,979.5" fill="none" stroke="#fff" stroke-width="1.8" stroke-opacity="1" stroke-linejoin="round" stroke-linecap="round"/>
<polyline points="572,978 566,979.5 567.5,988.5 572,1000.5 578,1008 587,1015.5 591.5,1021.5 594.5,1029 605,1032 614,1030.5 626,1026 636.5,1023" fill="none" stroke="#fff" stroke-width="1.8" stroke-opacity="1" stroke-linejoin="round" stroke-linecap="round"/>
<polyline points="596,994.5 600.5,1002 596,1008 594.5,1014 596,1020 593,1026" fill="none" stroke="#fff" stroke-width="1.8" stroke-opacity="1" stroke-linejoin="round" stroke-linecap="round"/>
<polyline points="605,1032 608,1041" fill="none" stroke="#fff" stroke-width="1.8" stroke-opacity="1" stroke-linejoin="round" stroke-linecap="round"/>
<polyline points="572,1000.5 575,1014 579.5,1026 587,1035 593,1041" fill="none" stroke="#fff" stroke-width="1.8" stroke-opacity="1" stroke-linejoin="round" stroke-linecap="round"/>
<polyline points="545,994.5 552,1003 557,1011" fill="none" stroke="#fff" stroke-width="1.6" stroke-opacity="1" stroke-linejoin="round" stroke-linecap="round"/>
<ellipse cx="612" cy="1001.5" rx="7" ry="3.6" fill="#fff"/><ellipse cx="618.5" cy="997" rx="3.4" ry="3.6" fill="#fff"/>
<path d="M601 1040 Q606 1041 610 1043.5 L612.5 1048 L606 1046Z" fill="#fff"/>
<text x="402.5" y="337.9" font-size="6" font-weight="bold" fill="#17509f" stroke="#17509f" stroke-width="0.25" text-anchor="middle" textLength="28" lengthAdjust="spacingAndGlyphs">LAI CHÂU</text>
<text x="398" y="366.7" font-size="6" font-weight="bold" fill="#17509f" stroke="#17509f" stroke-width="0.25" text-anchor="middle" textLength="31" lengthAdjust="spacingAndGlyphs">ĐIỆN BIÊN</text>
<text x="455.5" y="342.4" font-size="4" font-weight="bold" fill="#17509f" stroke="#17509f" stroke-width="0.15" text-anchor="middle" textLength="9" lengthAdjust="spacingAndGlyphs">LÀO</text>
<text x="455.5" y="347.9" font-size="4" font-weight="bold" fill="#17509f" stroke="#17509f" stroke-width="0.15" text-anchor="middle" textLength="8" lengthAdjust="spacingAndGlyphs">CAI</text>
<text x="487" y="315.9" font-size="6" font-weight="bold" fill="#17509f" stroke="#17509f" stroke-width="0.25" text-anchor="middle" textLength="8" lengthAdjust="spacingAndGlyphs">HÀ</text>
<text x="487" y="322.9" font-size="6" font-weight="bold" fill="#17509f" stroke="#17509f" stroke-width="0.25" text-anchor="middle" textLength="19" lengthAdjust="spacingAndGlyphs">GIANG</text>
<text x="508.75" y="344.7" font-size="6" font-weight="bold" fill="#17509f" stroke="#17509f" stroke-width="0.25" text-anchor="middle" textLength="20" lengthAdjust="spacingAndGlyphs">TUYÊN</text>
<text x="508.75" y="351.4" font-size="6" font-weight="bold" fill="#17509f" stroke="#17509f" stroke-width="0.25" text-anchor="middle" textLength="22" lengthAdjust="spacingAndGlyphs">QUANG</text>
<text x="475.5" y="376.6" font-size="4.5" font-weight="bold" fill="#17509f" stroke="#17509f" stroke-width="0.15" text-anchor="middle" textLength="21" lengthAdjust="spacingAndGlyphs">YÊN BÁI</text>
<text x="442.5" y="405.9" font-size="6" font-weight="bold" fill="#17509f" stroke="#17509f" stroke-width="0.25" text-anchor="middle" textLength="22.5" lengthAdjust="spacingAndGlyphs">SƠN LA</text>
<text x="504.5" y="401.9" font-size="4" font-weight="bold" fill="#17509f" stroke="#17509f" stroke-width="0.15" text-anchor="middle" textLength="9" lengthAdjust="spacingAndGlyphs">PHÚ</text>
<text x="504.5" y="406.9" font-size="4" font-weight="bold" fill="#17509f" stroke="#17509f" stroke-width="0.15" text-anchor="middle" textLength="9" lengthAdjust="spacingAndGlyphs">THỌ</text>
<text x="563" y="322.8" font-size="6.5" font-weight="bold" fill="#17509f" stroke="#17509f" stroke-width="0.25" text-anchor="middle" textLength="34" lengthAdjust="spacingAndGlyphs">CAO BẰNG</text>
<text x="543" y="341.1" font-size="6.5" font-weight="bold" fill="#17509f" stroke="#17509f" stroke-width="0.25" text-anchor="middle" textLength="29" lengthAdjust="spacingAndGlyphs">BẮC KẠN</text>
<text x="577.5" y="354.3" font-size="6.5" font-weight="bold" fill="#17509f" stroke="#17509f" stroke-width="0.25" text-anchor="middle" textLength="17" lengthAdjust="spacingAndGlyphs">LẠNG</text>
<text x="577.5" y="361.8" font-size="6.5" font-weight="bold" fill="#17509f" stroke="#17509f" stroke-width="0.25" text-anchor="middle" textLength="14" lengthAdjust="spacingAndGlyphs">SƠN</text>
<text x="544.5" y="377.1" font-size="4.5" font-weight="bold" fill="#17509f" stroke="#17509f" stroke-width="0.15" text-anchor="middle" textLength="11" lengthAdjust="spacingAndGlyphs">THÁI</text>
<text x="544.5" y="382.1" font-size="4.5" font-weight="bold" fill="#17509f" stroke="#17509f" stroke-width="0.15" text-anchor="middle" textLength="19" lengthAdjust="spacingAndGlyphs">NGUYÊN</text>
<text x="528.75" y="398.8" font-size="5" font-weight="bold" fill="#17509f" stroke="#17509f" stroke-width="0.15" text-anchor="middle" textLength="12" lengthAdjust="spacingAndGlyphs">VĨNH</text>
<text x="528.75" y="404.8" font-size="5" font-weight="bold" fill="#17509f" stroke="#17509f" stroke-width="0.15" text-anchor="middle" textLength="12" lengthAdjust="spacingAndGlyphs">PHÚC</text>
<text x="542.5" y="407.5" font-size="7" font-weight="bold" fill="#17509f" stroke="#17509f" stroke-width="0.25" text-anchor="middle" textLength="8" lengthAdjust="spacingAndGlyphs">HÀ</text>
<text x="542.5" y="415.0" font-size="7" font-weight="bold" fill="#17509f" stroke="#17509f" stroke-width="0.25" text-anchor="middle" textLength="11" lengthAdjust="spacingAndGlyphs">NỘI</text>
<text x="590" y="397.2" font-size="3.2" font-weight="bold" fill="#17509f" stroke="#17509f" stroke-width="0.15" text-anchor="middle" textLength="7" lengthAdjust="spacingAndGlyphs">BẮC</text>
<text x="590" y="400.7" font-size="3.2" font-weight="bold" fill="#17509f" stroke="#17509f" stroke-width="0.15" text-anchor="middle" textLength="11" lengthAdjust="spacingAndGlyphs">GIANG</text>
<text x="616" y="405.4" font-size="4.5" font-weight="bold" fill="#17509f" stroke="#17509f" stroke-width="0.15" text-anchor="middle" textLength="16" lengthAdjust="spacingAndGlyphs">QUẢNG</text>
<text x="616" y="409.4" font-size="4" font-weight="bold" fill="#17509f" stroke="#17509f" stroke-width="0.15" text-anchor="middle" textLength="10" lengthAdjust="spacingAndGlyphs">NINH</text>
<text x="560" y="412.3" font-size="3.5" font-weight="bold" fill="#17509f" stroke="#17509f" stroke-width="0.15" text-anchor="middle" textLength="15" lengthAdjust="spacingAndGlyphs">BẮC NINH</text>
<text x="533.75" y="421.4" font-size="4" font-weight="bold" fill="#17509f" stroke="#17509f" stroke-width="0.15" text-anchor="middle" textLength="6" lengthAdjust="spacingAndGlyphs">HÀ</text>
<text x="533.75" y="426.4" font-size="4" font-weight="bold" fill="#17509f" stroke="#17509f" stroke-width="0.15" text-anchor="middle" textLength="8" lengthAdjust="spacingAndGlyphs">TÂY</text>
<text x="554.5" y="424.4" font-size="3.8" font-weight="bold" fill="#17509f" stroke="#17509f" stroke-width="0.15" text-anchor="middle" textLength="10" lengthAdjust="spacingAndGlyphs">HƯNG</text>
<text x="554.5" y="428.9" font-size="3.8" font-weight="bold" fill="#17509f" stroke="#17509f" stroke-width="0.15" text-anchor="middle" textLength="8" lengthAdjust="spacingAndGlyphs">YÊN</text>
<text x="571" y="423.8" font-size="3.5" font-weight="bold" fill="#17509f" stroke="#17509f" stroke-width="0.15" text-anchor="middle" textLength="18" lengthAdjust="spacingAndGlyphs">HẢI DƯƠNG</text>
<text x="586" y="432.4" font-size="3.8" font-weight="bold" fill="#17509f" stroke="#17509f" stroke-width="0.15" text-anchor="middle" textLength="7" lengthAdjust="spacingAndGlyphs">HẢI</text>
<text x="586" y="436.4" font-size="3.8" font-weight="bold" fill="#17509f" stroke="#17509f" stroke-width="0.15" text-anchor="middle" textLength="12" lengthAdjust="spacingAndGlyphs">PHÒNG</text>
<text x="513.75" y="439.3" font-size="5" font-weight="bold" fill="#17509f" stroke="#17509f" stroke-width="0.15" text-anchor="middle" textLength="25" lengthAdjust="spacingAndGlyphs">HÒA BÌNH</text>
<text x="551" y="445.8" font-size="3.5" font-weight="bold" fill="#17509f" stroke="#17509f" stroke-width="0.15" text-anchor="middle" textLength="14" lengthAdjust="spacingAndGlyphs">HÀ NAM</text>
<text x="573" y="447.3" font-size="3.5" font-weight="bold" fill="#17509f" stroke="#17509f" stroke-width="0.15" text-anchor="middle" textLength="16" lengthAdjust="spacingAndGlyphs">THÁI BÌNH</text>
<text x="544" y="462.3" font-size="3.5" font-weight="bold" fill="#17509f" stroke="#17509f" stroke-width="0.15" text-anchor="middle" textLength="8" lengthAdjust="spacingAndGlyphs">NINH</text>
<text x="544" y="465.8" font-size="3.5" font-weight="bold" fill="#17509f" stroke="#17509f" stroke-width="0.15" text-anchor="middle" textLength="8" lengthAdjust="spacingAndGlyphs">BÌNH</text>
<text x="566" y="459.3" font-size="3.5" font-weight="bold" fill="#17509f" stroke="#17509f" stroke-width="0.15" text-anchor="middle" textLength="7" lengthAdjust="spacingAndGlyphs">NAM</text>
<text x="566" y="462.8" font-size="3.5" font-weight="bold" fill="#17509f" stroke="#17509f" stroke-width="0.15" text-anchor="middle" textLength="8" lengthAdjust="spacingAndGlyphs">ĐỊNH</text>
<text x="526.75" y="484.4" font-size="10" font-weight="bold" fill="#0db4f0" stroke="#0db4f0" stroke-width="0.25" text-anchor="middle" textLength="30" lengthAdjust="spacingAndGlyphs">THANH</text>
<text x="526.75" y="494.1" font-size="10" font-weight="bold" fill="#0db4f0" stroke="#0db4f0" stroke-width="0.25" text-anchor="middle" textLength="20" lengthAdjust="spacingAndGlyphs">HÓA</text>
<text x="487" y="517.9" font-size="10" font-weight="bold" fill="#0db4f0" stroke="#0db4f0" stroke-width="0.25" text-anchor="middle" textLength="42.5" lengthAdjust="spacingAndGlyphs">NGHỆ AN</text>
<text x="523" y="572.4" font-size="10" font-weight="bold" fill="#0db4f0" stroke="#0db4f0" stroke-width="0.25" text-anchor="middle" textLength="35" lengthAdjust="spacingAndGlyphs">HÀ TĨNH</text>
<text x="566.25" y="623.4" font-size="6" font-weight="bold" fill="#0db4f0" stroke="#0db4f0" stroke-width="0.25" text-anchor="middle" textLength="20.5" lengthAdjust="spacingAndGlyphs">QUẢNG</text>
<text x="566.25" y="630.9" font-size="6" font-weight="bold" fill="#0db4f0" stroke="#0db4f0" stroke-width="0.25" text-anchor="middle" textLength="13" lengthAdjust="spacingAndGlyphs">BÌNH</text>
<text x="599.5" y="675.9" font-size="8" font-weight="bold" fill="#0db4f0" stroke="#0db4f0" stroke-width="0.25" text-anchor="middle" textLength="26" lengthAdjust="spacingAndGlyphs">QUẢNG</text>
<text x="599.5" y="684.1" font-size="8" font-weight="bold" fill="#0db4f0" stroke="#0db4f0" stroke-width="0.25" text-anchor="middle" textLength="11" lengthAdjust="spacingAndGlyphs">TRỊ</text>
<text x="637.5" y="702.2" font-size="6" font-weight="bold" fill="#0db4f0" stroke="#0db4f0" stroke-width="0.25" text-anchor="middle" textLength="37.5" lengthAdjust="spacingAndGlyphs">THỪA THIÊN</text>
<text x="637.5" y="709.7" font-size="6" font-weight="bold" fill="#0db4f0" stroke="#0db4f0" stroke-width="0.25" text-anchor="middle" textLength="12" lengthAdjust="spacingAndGlyphs">HUẾ</text>
<text x="669" y="713.1" font-size="3" font-weight="bold" fill="#17509f" stroke="#17509f" stroke-width="0.15" text-anchor="middle" textLength="12" lengthAdjust="spacingAndGlyphs">ĐÀ NẴNG</text>
<text x="667" y="749.2" font-size="9" font-weight="bold" fill="#17509f" stroke="#17509f" stroke-width="0.25" text-anchor="middle" textLength="49" lengthAdjust="spacingAndGlyphs">QUẢNG NAM</text>
<text x="660" y="807.2" font-size="9" font-weight="bold" fill="#17509f" stroke="#17509f" stroke-width="0.25" text-anchor="middle" textLength="35" lengthAdjust="spacingAndGlyphs">KON TUM</text>
<text x="705" y="782.1" font-size="8" font-weight="bold" fill="#17509f" stroke="#17509f" stroke-width="0.25" text-anchor="middle" textLength="25" lengthAdjust="spacingAndGlyphs">QUẢNG</text>
<text x="705" y="789.9" font-size="8" font-weight="bold" fill="#17509f" stroke="#17509f" stroke-width="0.25" text-anchor="middle" textLength="18" lengthAdjust="spacingAndGlyphs">NGÃI</text>
<text x="716.25" y="809.1" font-size="8" font-weight="bold" fill="#17509f" stroke="#17509f" stroke-width="0.25" text-anchor="middle" textLength="17.5" lengthAdjust="spacingAndGlyphs">BÌNH</text>
<text x="716.25" y="819.1" font-size="8" font-weight="bold" fill="#17509f" stroke="#17509f" stroke-width="0.25" text-anchor="middle" textLength="17.5" lengthAdjust="spacingAndGlyphs">ĐỊNH</text>
<text x="681.25" y="853.6" font-size="10" font-weight="bold" fill="#17509f" stroke="#17509f" stroke-width="0.25" text-anchor="middle" textLength="32.5" lengthAdjust="spacingAndGlyphs">GIA LAI</text>
<text x="726" y="894.3" font-size="6.5" font-weight="bold" fill="#17509f" stroke="#17509f" stroke-width="0.25" text-anchor="middle" textLength="25" lengthAdjust="spacingAndGlyphs">PHÚ YÊN</text>
<text x="687.5" y="919.6" font-size="10" font-weight="bold" fill="#17509f" stroke="#17509f" stroke-width="0.25" text-anchor="middle" textLength="40" lengthAdjust="spacingAndGlyphs">ĐẮK LẮK</text>
<text x="721.25" y="935.3" font-size="6.5" font-weight="bold" fill="#17509f" stroke="#17509f" stroke-width="0.25" text-anchor="middle" textLength="20" lengthAdjust="spacingAndGlyphs">KHÁNH</text>
<text x="721.25" y="941.8" font-size="6.5" font-weight="bold" fill="#17509f" stroke="#17509f" stroke-width="0.25" text-anchor="middle" textLength="12" lengthAdjust="spacingAndGlyphs">HÒA</text>
<text x="645.5" y="946.3" font-size="6.5" font-weight="bold" fill="#17509f" stroke="#17509f" stroke-width="0.25" text-anchor="middle" textLength="30.5" lengthAdjust="spacingAndGlyphs">ĐẮK NÔNG</text>
<text x="717" y="964.3" font-size="6.5" font-weight="bold" fill="#17509f" stroke="#17509f" stroke-width="0.25" text-anchor="middle" textLength="13" lengthAdjust="spacingAndGlyphs">NINH</text>
<text x="717" y="970.3" font-size="6.5" font-weight="bold" fill="#17509f" stroke="#17509f" stroke-width="0.25" text-anchor="middle" textLength="19" lengthAdjust="spacingAndGlyphs">THUẬN</text>
<text x="660" y="978.6" font-size="10" font-weight="bold" fill="#17509f" stroke="#17509f" stroke-width="0.25" text-anchor="middle" textLength="49" lengthAdjust="spacingAndGlyphs">LÂM ĐỒNG</text>
<text x="661" y="1006.8" font-size="6.5" font-weight="bold" fill="#17509f" stroke="#17509f" stroke-width="0.25" text-anchor="middle" textLength="34.5" lengthAdjust="spacingAndGlyphs">BÌNH THUẬN</text>
<text x="600" y="966.1" font-size="6.5" font-weight="bold" fill="#17509f" stroke="#17509f" stroke-width="0.25" text-anchor="middle" textLength="14" lengthAdjust="spacingAndGlyphs">BÌNH</text>
<text x="600" y="972.8" font-size="6.5" font-weight="bold" fill="#17509f" stroke="#17509f" stroke-width="0.25" text-anchor="middle" textLength="20" lengthAdjust="spacingAndGlyphs">PHƯỚC</text>
<text x="551.25" y="979.2" font-size="6" font-weight="bold" fill="#17509f" stroke="#17509f" stroke-width="0.25" text-anchor="middle" textLength="10" lengthAdjust="spacingAndGlyphs">TÂY</text>
<text x="551.25" y="985.9" font-size="6" font-weight="bold" fill="#17509f" stroke="#17509f" stroke-width="0.25" text-anchor="middle" textLength="12" lengthAdjust="spacingAndGlyphs">NINH</text>
<text x="580" y="992.9" font-size="6" font-weight="bold" fill="#17509f" stroke="#17509f" stroke-width="0.25" text-anchor="middle" textLength="12" lengthAdjust="spacingAndGlyphs">BÌNH</text>
<text x="580" y="999.7" font-size="6" font-weight="bold" fill="#17509f" stroke="#17509f" stroke-width="0.25" text-anchor="middle" textLength="18" lengthAdjust="spacingAndGlyphs">DƯƠNG</text>
<text x="615" y="1019.8" font-size="6.5" font-weight="bold" fill="#17509f" stroke="#17509f" stroke-width="0.25" text-anchor="middle" textLength="25" lengthAdjust="spacingAndGlyphs">ĐỒNG NAI</text>
<text x="580" y="1024.7" font-size="4" font-weight="bold" fill="#17509f" stroke="#17509f" stroke-width="0.15" text-anchor="middle" textLength="32" lengthAdjust="spacingAndGlyphs">TP.HỒ CHÍ MINH</text>
<text x="624.5" y="1033.4" font-size="3.8" font-weight="bold" fill="#17509f" stroke="#17509f" stroke-width="0.15" text-anchor="middle" textLength="11" lengthAdjust="spacingAndGlyphs">BÀ RỊA</text>
<text x="624.5" y="1037.6" font-size="3.8" font-weight="bold" fill="#17509f" stroke="#17509f" stroke-width="0.15" text-anchor="middle" textLength="16" lengthAdjust="spacingAndGlyphs">VŨNG TÀU</text>
<text x="547" y="1027.9" font-size="6" font-weight="bold" fill="#17509f" stroke="#17509f" stroke-width="0.25" text-anchor="middle" textLength="13" lengthAdjust="spacingAndGlyphs">LONG</text>
<text x="547" y="1034.2" font-size="6" font-weight="bold" fill="#17509f" stroke="#17509f" stroke-width="0.25" text-anchor="middle" textLength="7" lengthAdjust="spacingAndGlyphs">AN</text>
<text x="525" y="1030.9" font-size="6" font-weight="bold" fill="#17509f" stroke="#17509f" stroke-width="0.25" text-anchor="middle" textLength="14" lengthAdjust="spacingAndGlyphs">ĐỒNG</text>
<text x="525" y="1037.2" font-size="6" font-weight="bold" fill="#17509f" stroke="#17509f" stroke-width="0.25" text-anchor="middle" textLength="14" lengthAdjust="spacingAndGlyphs">THÁP</text>
<text x="491.25" y="1044.1" font-size="6.5" font-weight="bold" fill="#17509f" stroke="#17509f" stroke-width="0.25" text-anchor="middle" textLength="27.5" lengthAdjust="spacingAndGlyphs">AN GIANG</text>
<text x="555.5" y="1042.2" font-size="6" font-weight="bold" fill="#17509f" stroke="#17509f" stroke-width="0.25" text-anchor="middle" textLength="12" lengthAdjust="spacingAndGlyphs">TIỀN</text>
<text x="555.5" y="1047.9" font-size="6" font-weight="bold" fill="#17509f" stroke="#17509f" stroke-width="0.25" text-anchor="middle" textLength="16" lengthAdjust="spacingAndGlyphs">GIANG</text>
<text x="517" y="1064.1" font-size="6.5" font-weight="bold" fill="#17509f" stroke="#17509f" stroke-width="0.25" text-anchor="middle" textLength="12" lengthAdjust="spacingAndGlyphs">CẦN</text>
<text x="517" y="1070.6" font-size="6.5" font-weight="bold" fill="#17509f" stroke="#17509f" stroke-width="0.25" text-anchor="middle" textLength="12" lengthAdjust="spacingAndGlyphs">THƠ</text>
<text x="548" y="1064.2" font-size="6" font-weight="bold" fill="#17509f" stroke="#17509f" stroke-width="0.25" text-anchor="middle" textLength="12" lengthAdjust="spacingAndGlyphs">VĨNH</text>
<text x="548" y="1070.2" font-size="6" font-weight="bold" fill="#17509f" stroke="#17509f" stroke-width="0.25" text-anchor="middle" textLength="13" lengthAdjust="spacingAndGlyphs">LONG</text>
<text x="580" y="1063.6" font-size="4.5" font-weight="bold" fill="#17509f" stroke="#17509f" stroke-width="0.15" text-anchor="middle" textLength="16" lengthAdjust="spacingAndGlyphs">BẾN TRE</text>
<text x="500" y="1077.2" font-size="6" font-weight="bold" fill="#17509f" stroke="#17509f" stroke-width="0.25" text-anchor="middle" textLength="12" lengthAdjust="spacingAndGlyphs">KIÊN</text>
<text x="500" y="1083.4" font-size="6" font-weight="bold" fill="#17509f" stroke="#17509f" stroke-width="0.25" text-anchor="middle" textLength="16" lengthAdjust="spacingAndGlyphs">GIANG</text>
<text x="525" y="1080.9" font-size="6" font-weight="bold" fill="#17509f" stroke="#17509f" stroke-width="0.25" text-anchor="middle" textLength="11" lengthAdjust="spacingAndGlyphs">HẬU</text>
<text x="525" y="1087.2" font-size="6" font-weight="bold" fill="#17509f" stroke="#17509f" stroke-width="0.25" text-anchor="middle" textLength="16" lengthAdjust="spacingAndGlyphs">GIANG</text>
<text x="568.75" y="1084.7" font-size="6" font-weight="bold" fill="#17509f" stroke="#17509f" stroke-width="0.25" text-anchor="middle" textLength="9" lengthAdjust="spacingAndGlyphs">TRÀ</text>
<text x="568.75" y="1090.9" font-size="6" font-weight="bold" fill="#17509f" stroke="#17509f" stroke-width="0.25" text-anchor="middle" textLength="12" lengthAdjust="spacingAndGlyphs">VINH</text>
<text x="540" y="1102.3" font-size="6.5" font-weight="bold" fill="#17509f" stroke="#17509f" stroke-width="0.25" text-anchor="middle" textLength="32.5" lengthAdjust="spacingAndGlyphs">SÓC TRĂNG</text>
<text x="513.25" y="1107.9" font-size="6" font-weight="bold" fill="#17509f" stroke="#17509f" stroke-width="0.25" text-anchor="middle" textLength="11" lengthAdjust="spacingAndGlyphs">BẠC</text>
<text x="513.25" y="1113.9" font-size="6" font-weight="bold" fill="#17509f" stroke="#17509f" stroke-width="0.25" text-anchor="middle" textLength="12" lengthAdjust="spacingAndGlyphs">LIÊU</text>
<text x="490" y="1135.9" font-size="6" font-weight="bold" fill="#17509f" stroke="#17509f" stroke-width="0.25" text-anchor="middle" textLength="21" lengthAdjust="spacingAndGlyphs">CÀ MAU</text>
<circle cx="525" cy="462.6" r="9.6" fill="#fff"/><circle cx="525" cy="462.6" r="8.2" fill="#f7943c"/>
<text x="525" y="466.6" font-size="11" font-weight="bold" fill="#fff" text-anchor="middle" textLength="11.5" lengthAdjust="spacingAndGlyphs">81</text>
<circle cx="505" cy="531.25" r="9.6" fill="#fff"/><circle cx="505" cy="531.25" r="8.2" fill="#f7943c"/>
<text x="505" y="535.25" font-size="11" font-weight="bold" fill="#fff" text-anchor="middle" textLength="11.5" lengthAdjust="spacingAndGlyphs">79</text>
<circle cx="549" cy="584.5" r="9.6" fill="#fff"/><circle cx="549" cy="584.5" r="8.2" fill="#f7943c"/>
<text x="549" y="588.5" font-size="11" font-weight="bold" fill="#fff" text-anchor="middle" textLength="11.5" lengthAdjust="spacingAndGlyphs">79</text>
<circle cx="575" cy="611" r="9.6" fill="#fff"/><circle cx="575" cy="611" r="8.2" fill="#f7943c"/>
<text x="575" y="615" font-size="11" font-weight="bold" fill="#fff" text-anchor="middle" textLength="11.5" lengthAdjust="spacingAndGlyphs">80</text>
<circle cx="614" cy="659" r="9.6" fill="#fff"/><circle cx="614" cy="659" r="8.2" fill="#f7943c"/>
<text x="614" y="663" font-size="11" font-weight="bold" fill="#fff" text-anchor="middle" textLength="11.5" lengthAdjust="spacingAndGlyphs">79</text>
<circle cx="644" cy="684" r="9.6" fill="#fff"/><circle cx="644" cy="684" r="8.2" fill="#f7943c"/>
<text x="644" y="688" font-size="11" font-weight="bold" fill="#fff" text-anchor="middle" textLength="11.5" lengthAdjust="spacingAndGlyphs">80</text>
<circle cx="669" cy="726" r="9.6" fill="#fff"/><circle cx="669" cy="726" r="8.2" fill="#f7943c"/>
<text x="669" y="730" font-size="11" font-weight="bold" fill="#fff" text-anchor="middle" textLength="11.5" lengthAdjust="spacingAndGlyphs">81</text>
<circle cx="715" cy="762" r="9.6" fill="#fff"/><circle cx="715" cy="762" r="8.2" fill="#f7943c"/>
<text x="715" y="766" font-size="11" font-weight="bold" fill="#fff" text-anchor="middle" textLength="11.5" lengthAdjust="spacingAndGlyphs">82</text>
<circle cx="669.5" cy="782" r="9.6" fill="#fff"/><circle cx="669.5" cy="782" r="8.2" fill="#f7943c"/>
<text x="669.5" y="786" font-size="11" font-weight="bold" fill="#fff" text-anchor="middle" textLength="11.5" lengthAdjust="spacingAndGlyphs">82</text>
<circle cx="699.5" cy="829.5" r="9.6" fill="#fff"/><circle cx="699.5" cy="829.5" r="8.2" fill="#f7943c"/>
<text x="699.5" y="833.5" font-size="11" font-weight="bold" fill="#fff" text-anchor="middle" textLength="11.5" lengthAdjust="spacingAndGlyphs">79</text>
<circle cx="740" cy="831" r="9.6" fill="#fff"/><circle cx="740" cy="831" r="8.2" fill="#f7943c"/>
<text x="740" y="835" font-size="11" font-weight="bold" fill="#fff" text-anchor="middle" textLength="11.5" lengthAdjust="spacingAndGlyphs">81</text>
<circle cx="740" cy="872" r="9.6" fill="#fff"/><circle cx="740" cy="872" r="8.2" fill="#f7943c"/>
<text x="740" y="876" font-size="11" font-weight="bold" fill="#fff" text-anchor="middle" textLength="11.5" lengthAdjust="spacingAndGlyphs">82</text>
<circle cx="687.5" cy="891" r="9.6" fill="#fff"/><circle cx="687.5" cy="891" r="8.2" fill="#f7943c"/>
<text x="687.5" y="895" font-size="11" font-weight="bold" fill="#fff" text-anchor="middle" textLength="11.5" lengthAdjust="spacingAndGlyphs">80</text>
<circle cx="740" cy="917.5" r="9.6" fill="#fff"/><circle cx="740" cy="917.5" r="8.2" fill="#f7943c"/>
<text x="740" y="921.5" font-size="11" font-weight="bold" fill="#fff" text-anchor="middle" textLength="11.5" lengthAdjust="spacingAndGlyphs">80</text>
<circle cx="701" cy="952.5" r="9.6" fill="#fff"/><circle cx="701" cy="952.5" r="8.2" fill="#f7943c"/>
<text x="701" y="956.5" font-size="11" font-weight="bold" fill="#fff" text-anchor="middle" textLength="11.5" lengthAdjust="spacingAndGlyphs">80</text>
<circle cx="730" cy="981" r="9.6" fill="#fff"/><circle cx="730" cy="981" r="8.2" fill="#f7943c"/>
<text x="730" y="985" font-size="11" font-weight="bold" fill="#fff" text-anchor="middle" textLength="11.5" lengthAdjust="spacingAndGlyphs">81</text>
<circle cx="669" cy="1015" r="9.6" fill="#fff"/><circle cx="669" cy="1015" r="8.2" fill="#f7943c"/>
<text x="669" y="1019" font-size="11" font-weight="bold" fill="#fff" text-anchor="middle" textLength="11.5" lengthAdjust="spacingAndGlyphs">80</text>
<rect x="320" y="382.5" width="76.75" height="21" fill="#fff"/>
<rect x="340" y="415.5" width="86" height="16.5" fill="#fff"/>
<rect x="520" y="853" width="124" height="21" fill="#fff"/>
<path d="M383.5 289.5V305.5H538.5" fill="none" stroke="#4d5157" stroke-width="1.6"/>
<path d="M334.75 312.5V328.75H453.75" fill="none" stroke="#4d5157" stroke-width="1.6"/>
<path d="M350 346.75H495" fill="none" stroke="#4d5157" stroke-width="1.6"/>
<path d="M351.25 365V379.25H470" fill="none" stroke="#4d5157" stroke-width="1.6"/>
<path d="M370 398V406H505" fill="none" stroke="#4d5157" stroke-width="1.6"/>
<path d="M417 428H448.75V423.25H636.25V413.5H695" fill="none" stroke="#4d5157" stroke-width="1.6"/>
<path d="M467.5 450H511V445.6H560" fill="none" stroke="#4d5157" stroke-width="1.6"/>
<path d="M638.5 305.25H584.75V390H532.5" fill="none" stroke="#4d5157" stroke-width="1.6"/>
<path d="M612.5 324.5H548.5V402.5" fill="none" stroke="#4d5157" stroke-width="1.6"/>
<path d="M620.5 345.25H588V381.75H555" fill="none" stroke="#4d5157" stroke-width="1.6"/>
<path d="M653.75 368.5H615.3V398.4H581" fill="none" stroke="#4d5157" stroke-width="1.6"/>
<path d="M697.5 389.4H631V410.4H552.5" fill="none" stroke="#4d5157" stroke-width="1.6"/>
<path d="M680 433.75H633.75V432.4H592" fill="none" stroke="#4d5157" stroke-width="1.6"/>
<path d="M581.6 448H589V446.8H600" fill="none" stroke="#4d5157" stroke-width="1.6"/>
<path d="M566 454.5H605.5V463.4H646" fill="none" stroke="#4d5157" stroke-width="1.6"/>
<path d="M552 466H568V489.4H584" fill="none" stroke="#4d5157" stroke-width="1.6"/>
<path d="M644.5 863H663.75V956.25H628.75V1046" fill="none" stroke="#4d5157" stroke-width="1.6"/>
<path d="M613.5 905H616.75V1010" fill="none" stroke="#4d5157" stroke-width="1.6"/>
<path d="M547.5 951.25V978.5H595V1006.25" fill="none" stroke="#4d5157" stroke-width="1.6"/>
<path d="M512.5 974.5V1021.5H545" fill="none" stroke="#4d5157" stroke-width="1.6"/>
<path d="M483.75 997.75H568.75V1026.25" fill="none" stroke="#4d5157" stroke-width="1.6"/>
<path d="M483.75 1021.5H508.75V1040H536" fill="none" stroke="#4d5157" stroke-width="1.6"/>
<path d="M446.25 1040H473.75V1049.25H501.25" fill="none" stroke="#4d5157" stroke-width="1.6"/>
<path d="M451.25 1054.4H490V1070.5H523.75" fill="none" stroke="#4d5157" stroke-width="1.6"/>
<path d="M471.25 1077.5H486.25V1087H501" fill="none" stroke="#4d5157" stroke-width="1.6"/>
<path d="M538.75 1080H496.25V1154.5H453.25" fill="none" stroke="#4d5157" stroke-width="1.6"/>
<path d="M482 1114.4H495V1118H516.5" fill="none" stroke="#4d5157" stroke-width="1.6"/>
<path d="M530 1102.5V1173.75H546" fill="none" stroke="#4d5157" stroke-width="1.6"/>
<path d="M545.5 1063.75V1140H565.5" fill="none" stroke="#4d5157" stroke-width="1.6"/>
<path d="M563.4 1081.25V1117H601.5" fill="none" stroke="#4d5157" stroke-width="1.6"/>
<path d="M587.5 1063.75V1090H612.5" fill="none" stroke="#4d5157" stroke-width="1.6"/>
<path d="M552.5 1042.5H600.75V1054.25H656" fill="none" stroke="#4d5157" stroke-width="1.6"/>
<ellipse cx="345" cy="281" rx="10" ry="10" fill="#0054a6"/>
<text x="345" y="285.2" font-size="11.5" font-weight="bold" fill="#fff" text-anchor="middle" textLength="12.5" lengthAdjust="spacingAndGlyphs">81</text>
<text x="358.25" y="286" font-size="13.5" fill="#1d4a8d" stroke="#1d4a8d" stroke-width=".45" textLength="51.2" lengthAdjust="spacingAndGlyphs">Cao Bằng</text>
<ellipse cx="310" cy="306" rx="10" ry="10" fill="#0054a6"/>
<text x="310" y="310.2" font-size="11.5" font-weight="bold" fill="#fff" text-anchor="middle" textLength="12.5" lengthAdjust="spacingAndGlyphs">81</text>
<text x="323.25" y="310.2" font-size="13.5" fill="#1d4a8d" stroke="#1d4a8d" stroke-width=".45" textLength="39.8" lengthAdjust="spacingAndGlyphs">Lào Cai</text>
<ellipse cx="259.5" cy="345" rx="10" ry="10" fill="#0054a6"/>
<text x="259.5" y="349.2" font-size="11.5" font-weight="bold" fill="#fff" text-anchor="middle" textLength="12.5" lengthAdjust="spacingAndGlyphs">80</text>
<text x="272.5" y="349.5" font-size="13.5" fill="#1d4a8d" stroke="#1d4a8d" stroke-width=".45" textLength="68.8" lengthAdjust="spacingAndGlyphs">Tuyên Quang</text>
<ellipse cx="310" cy="369" rx="10" ry="10" fill="#0054a6"/>
<text x="310" y="373.2" font-size="11.5" font-weight="bold" fill="#fff" text-anchor="middle" textLength="12.5" lengthAdjust="spacingAndGlyphs">80</text>
<text x="326" y="372" font-size="13.5" fill="#1d4a8d" stroke="#1d4a8d" stroke-width=".45" textLength="40.0" lengthAdjust="spacingAndGlyphs">Yên Bái</text>
<ellipse cx="329.5" cy="393" rx="10" ry="10" fill="#0054a6"/>
<text x="329.5" y="397.2" font-size="11.5" font-weight="bold" fill="#fff" text-anchor="middle" textLength="12.5" lengthAdjust="spacingAndGlyphs">81</text>
<text x="343.75" y="397.5" font-size="13.5" fill="#1d4a8d" stroke="#1d4a8d" stroke-width=".45" textLength="43.8" lengthAdjust="spacingAndGlyphs">Phú Thọ</text>
<ellipse cx="352" cy="426.25" rx="10.3" ry="9.4" fill="#0054a6"/>
<text x="352" y="430.45" font-size="11.5" font-weight="bold" fill="#fff" text-anchor="middle" textLength="12.5" lengthAdjust="spacingAndGlyphs">79</text>
<text x="363.75" y="430.3" font-size="13.5" fill="#1d4a8d" stroke="#1d4a8d" stroke-width=".45" textLength="51.4" lengthAdjust="spacingAndGlyphs">Hưng Yên</text>
<ellipse cx="400" cy="453.2" rx="11.3" ry="9.4" fill="#0054a6"/>
<text x="400" y="457.4" font-size="11.5" font-weight="bold" fill="#fff" text-anchor="middle" textLength="12.5" lengthAdjust="spacingAndGlyphs">79</text>
<text x="425" y="456" font-size="13.5" fill="#1d4a8d" stroke="#1d4a8d" stroke-width=".45" textLength="43.0" lengthAdjust="spacingAndGlyphs">Hà Nam</text>
<ellipse cx="649.25" cy="305.75" rx="10" ry="10" fill="#0054a6"/>
<text x="649.25" y="309.95" font-size="11.5" font-weight="bold" fill="#fff" text-anchor="middle" textLength="12.5" lengthAdjust="spacingAndGlyphs">80</text>
<text x="663.75" y="310.5" font-size="13.5" fill="#1d4a8d" stroke="#1d4a8d" stroke-width=".45" textLength="53.2" lengthAdjust="spacingAndGlyphs">Vĩnh Phúc</text>
<ellipse cx="622.5" cy="325.5" rx="10" ry="10" fill="#0054a6"/>
<text x="622.5" y="329.7" font-size="11.5" font-weight="bold" fill="#fff" text-anchor="middle" textLength="12.5" lengthAdjust="spacingAndGlyphs">80</text>
<text x="637.5" y="330" font-size="13.5" fill="#1d4a8d" stroke="#1d4a8d" stroke-width=".45" textLength="35.8" lengthAdjust="spacingAndGlyphs">Hà Nội</text>
<ellipse cx="630.5" cy="346.25" rx="10" ry="10" fill="#0054a6"/>
<text x="630.5" y="350.45" font-size="11.5" font-weight="bold" fill="#fff" text-anchor="middle" textLength="12.5" lengthAdjust="spacingAndGlyphs">81</text>
<text x="643.75" y="350.75" font-size="13.5" fill="#1d4a8d" stroke="#1d4a8d" stroke-width=".45" textLength="66.2" lengthAdjust="spacingAndGlyphs">Thái Nguyên</text>
<ellipse cx="663.75" cy="368.25" rx="10" ry="10" fill="#0054a6"/>
<text x="663.75" y="372.45" font-size="11.5" font-weight="bold" fill="#fff" text-anchor="middle" textLength="12.5" lengthAdjust="spacingAndGlyphs">79</text>
<text x="676.25" y="372.3" font-size="13.5" fill="#1d4a8d" stroke="#1d4a8d" stroke-width=".45" textLength="53.2" lengthAdjust="spacingAndGlyphs">Bắc Giang</text>
<ellipse cx="707.5" cy="391.25" rx="10" ry="10" fill="#0054a6"/>
<text x="707.5" y="395.45" font-size="11.5" font-weight="bold" fill="#fff" text-anchor="middle" textLength="12.5" lengthAdjust="spacingAndGlyphs">81</text>
<text x="722.5" y="396.25" font-size="13.5" fill="#1d4a8d" stroke="#1d4a8d" stroke-width=".45" textLength="49.5" lengthAdjust="spacingAndGlyphs">Bắc Ninh</text>
<ellipse cx="708" cy="413.75" rx="13" ry="10" fill="#0054a6"/>
<text x="708" y="417.95" font-size="11.5" font-weight="bold" fill="#fff" text-anchor="middle" textLength="12.5" lengthAdjust="spacingAndGlyphs">82</text>
<text x="728.25" y="417.8" font-size="13.5" fill="#1d4a8d" stroke="#1d4a8d" stroke-width=".45" textLength="54.2" lengthAdjust="spacingAndGlyphs">Hải Dương</text>
<ellipse cx="690" cy="433.75" rx="10" ry="10" fill="#0054a6"/>
<text x="690" y="437.95" font-size="11.5" font-weight="bold" fill="#fff" text-anchor="middle" textLength="12.5" lengthAdjust="spacingAndGlyphs">80</text>
<text x="704.5" y="438" font-size="13.5" fill="#1d4a8d" stroke="#1d4a8d" stroke-width=".45" textLength="53.8" lengthAdjust="spacingAndGlyphs">Hải Phòng</text>
<ellipse cx="611.25" cy="447.3" rx="12" ry="9.5" fill="#0054a6"/>
<text x="611.25" y="451.5" font-size="11.5" font-weight="bold" fill="#fff" text-anchor="middle" textLength="12.5" lengthAdjust="spacingAndGlyphs">81</text>
<text x="628.75" y="450.3" font-size="13.5" fill="#1d4a8d" stroke="#1d4a8d" stroke-width=".45" textLength="49.5" lengthAdjust="spacingAndGlyphs">Thái Bình</text>
<ellipse cx="655.5" cy="463.75" rx="10" ry="10" fill="#0054a6"/>
<text x="655.5" y="467.95" font-size="11.5" font-weight="bold" fill="#fff" text-anchor="middle" textLength="12.5" lengthAdjust="spacingAndGlyphs">82</text>
<text x="670" y="467.7" font-size="13.5" fill="#1d4a8d" stroke="#1d4a8d" stroke-width=".45" textLength="53.2" lengthAdjust="spacingAndGlyphs">Nam Định</text>
<ellipse cx="595" cy="489.6" rx="11.5" ry="9.4" fill="#0054a6"/>
<text x="595" y="493.8" font-size="11.5" font-weight="bold" fill="#fff" text-anchor="middle" textLength="12.5" lengthAdjust="spacingAndGlyphs">80</text>
<text x="616.25" y="492.7" font-size="13.5" fill="#1d4a8d" stroke="#1d4a8d" stroke-width=".45" textLength="53.8" lengthAdjust="spacingAndGlyphs">Ninh Bình</text>
<ellipse cx="531.25" cy="863.75" rx="10" ry="10" fill="#0054a6"/>
<text x="531.25" y="867.95" font-size="11.5" font-weight="bold" fill="#fff" text-anchor="middle" textLength="12.5" lengthAdjust="spacingAndGlyphs">80</text>
<text x="546.25" y="867.8" font-size="13.5" fill="#1d4a8d" stroke="#1d4a8d" stroke-width=".45" textLength="88.8" lengthAdjust="spacingAndGlyphs">Bà Rịa Vũng Tàu</text>
<ellipse cx="538" cy="905.5" rx="10" ry="10" fill="#0054a6"/>
<text x="538" y="909.7" font-size="11.5" font-weight="bold" fill="#fff" text-anchor="middle" textLength="12.5" lengthAdjust="spacingAndGlyphs">81</text>
<text x="554.5" y="909.7" font-size="13.5" fill="#1d4a8d" stroke="#1d4a8d" stroke-width=".45" textLength="48.8" lengthAdjust="spacingAndGlyphs">Đồng Nai</text>
<ellipse cx="500.75" cy="939.7" rx="10" ry="10" fill="#0054a6"/>
<text x="500.75" y="943.9000000000001" font-size="11.5" font-weight="bold" fill="#fff" text-anchor="middle" textLength="12.5" lengthAdjust="spacingAndGlyphs">80</text>
<text x="516" y="943.9" font-size="13.5" fill="#1d4a8d" stroke="#1d4a8d" stroke-width=".45" textLength="62.2" lengthAdjust="spacingAndGlyphs">Bình Dương</text>
<ellipse cx="446.1" cy="960.6" rx="10" ry="10" fill="#0054a6"/>
<text x="446.1" y="964.8000000000001" font-size="11.5" font-weight="bold" fill="#fff" text-anchor="middle" textLength="12.5" lengthAdjust="spacingAndGlyphs">80</text>
<text x="460.5" y="967" font-size="13.5" fill="#1d4a8d" stroke="#1d4a8d" stroke-width=".45" textLength="82.8" lengthAdjust="spacingAndGlyphs">TP.Hồ Chí Minh</text>
<ellipse cx="431.25" cy="987" rx="10" ry="10" fill="#0054a6"/>
<text x="431.25" y="991.2" font-size="11.5" font-weight="bold" fill="#fff" text-anchor="middle" textLength="12.5" lengthAdjust="spacingAndGlyphs">81</text>
<text x="442.5" y="994.7" font-size="13.5" fill="#1d4a8d" stroke="#1d4a8d" stroke-width=".45" textLength="44.5" lengthAdjust="spacingAndGlyphs">Long An</text>
<ellipse cx="413.4" cy="1007.6" rx="10" ry="10" fill="#0054a6"/>
<text x="413.4" y="1011.8000000000001" font-size="11.5" font-weight="bold" fill="#fff" text-anchor="middle" textLength="12.5" lengthAdjust="spacingAndGlyphs">80</text>
<text x="424.5" y="1016.3" font-size="13.5" fill="#1d4a8d" stroke="#1d4a8d" stroke-width=".45" textLength="57.2" lengthAdjust="spacingAndGlyphs">Đồng Tháp</text>
<ellipse cx="390.1" cy="1032.6" rx="10" ry="10" fill="#0054a6"/>
<text x="390.1" y="1036.8" font-size="11.5" font-weight="bold" fill="#fff" text-anchor="middle" textLength="12.5" lengthAdjust="spacingAndGlyphs">80</text>
<text x="407" y="1037.2" font-size="13.5" fill="#1d4a8d" stroke="#1d4a8d" stroke-width=".45" textLength="46.2" lengthAdjust="spacingAndGlyphs">An Giang</text>
<ellipse cx="382.5" cy="1056.6" rx="10" ry="10" fill="#0054a6"/>
<text x="382.5" y="1060.8" font-size="11.5" font-weight="bold" fill="#fff" text-anchor="middle" textLength="12.5" lengthAdjust="spacingAndGlyphs">81</text>
<text x="394.25" y="1058.9" font-size="13.5" fill="#1d4a8d" stroke="#1d4a8d" stroke-width=".45" textLength="43.8" lengthAdjust="spacingAndGlyphs">Cần Thơ</text>
<ellipse cx="397.8" cy="1080.25" rx="10" ry="10" fill="#0054a6"/>
<text x="397.8" y="1084.45" font-size="11.5" font-weight="bold" fill="#fff" text-anchor="middle" textLength="12.5" lengthAdjust="spacingAndGlyphs">80</text>
<text x="412.5" y="1079.6" font-size="13.5" fill="#1d4a8d" stroke="#1d4a8d" stroke-width=".45" textLength="56.2" lengthAdjust="spacingAndGlyphs">Kiên Giang</text>
<ellipse cx="406.25" cy="1107" rx="10" ry="10" fill="#0054a6"/>
<text x="406.25" y="1111.2" font-size="11.5" font-weight="bold" fill="#fff" text-anchor="middle" textLength="12.5" lengthAdjust="spacingAndGlyphs">79</text>
<text x="423.75" y="1108.9" font-size="13.5" fill="#1d4a8d" stroke="#1d4a8d" stroke-width=".45" textLength="46.2" lengthAdjust="spacingAndGlyphs">Bạc Liêu</text>
<ellipse cx="389.2" cy="1140.1" rx="10" ry="10" fill="#0054a6"/>
<text x="389.2" y="1144.3" font-size="11.5" font-weight="bold" fill="#fff" text-anchor="middle" textLength="12.5" lengthAdjust="spacingAndGlyphs">79</text>
<text x="408.75" y="1142" font-size="13.5" fill="#1d4a8d" stroke="#1d4a8d" stroke-width=".45" textLength="53.8" lengthAdjust="spacingAndGlyphs">Hậu Giang</text>
<ellipse cx="665.75" cy="1053.75" rx="10" ry="10" fill="#0054a6"/>
<text x="665.75" y="1057.95" font-size="11.5" font-weight="bold" fill="#fff" text-anchor="middle" textLength="12.5" lengthAdjust="spacingAndGlyphs">80</text>
<text x="678" y="1057.2" font-size="13.5" fill="#1d4a8d" stroke="#1d4a8d" stroke-width=".45" textLength="55.8" lengthAdjust="spacingAndGlyphs">Tiền Giang</text>
<ellipse cx="624.25" cy="1090.75" rx="12" ry="9.5" fill="#0054a6"/>
<text x="624.25" y="1094.95" font-size="11.5" font-weight="bold" fill="#fff" text-anchor="middle" textLength="12.5" lengthAdjust="spacingAndGlyphs">80</text>
<text x="642.5" y="1094" font-size="13.5" fill="#1d4a8d" stroke="#1d4a8d" stroke-width=".45" textLength="41.2" lengthAdjust="spacingAndGlyphs">Bến Tre</text>
<ellipse cx="611.25" cy="1117" rx="10" ry="10" fill="#0054a6"/>
<text x="611.25" y="1121.2" font-size="11.5" font-weight="bold" fill="#fff" text-anchor="middle" textLength="12.5" lengthAdjust="spacingAndGlyphs">80</text>
<text x="623" y="1120.6" font-size="13.5" fill="#1d4a8d" stroke="#1d4a8d" stroke-width=".45" textLength="45.2" lengthAdjust="spacingAndGlyphs">Trà Vinh</text>
<ellipse cx="575" cy="1139.25" rx="10" ry="10" fill="#0054a6"/>
<text x="575" y="1143.45" font-size="11.5" font-weight="bold" fill="#fff" text-anchor="middle" textLength="12.5" lengthAdjust="spacingAndGlyphs">79</text>
<text x="588" y="1142.2" font-size="13.5" fill="#1d4a8d" stroke="#1d4a8d" stroke-width=".45" textLength="52.0" lengthAdjust="spacingAndGlyphs">Vĩnh Long</text>
<ellipse cx="556.25" cy="1173.75" rx="10" ry="10" fill="#0054a6"/>
<text x="556.25" y="1177.95" font-size="11.5" font-weight="bold" fill="#fff" text-anchor="middle" textLength="12.5" lengthAdjust="spacingAndGlyphs">81</text>
<text x="575.75" y="1176.4" font-size="13.5" fill="#1d4a8d" stroke="#1d4a8d" stroke-width=".45" textLength="52.5" lengthAdjust="spacingAndGlyphs">Sóc Trăng</text>

<g fill="none" stroke="#fdbb24" stroke-width="1.2" stroke-linejoin="miter">
<circle cx="782.75" cy="1103.25" r="4.4"/><circle cx="755" cy="1110.5" r="4.4"/><circle cx="729" cy="1129" r="4.4"/><circle cx="710.3" cy="1155" r="4.4"/><circle cx="703" cy="1183" r="4.4"/>
<path d="M742 1204 L718 1160 L768.5 1168.2 L760 1118 L806 1146"/>
<path d="M757 1204 L738.5 1173.3 L779.75 1179.75 L773.75 1138.2 L806 1159"/>
<path d="M735.8 1135.8 L762.2 1148.25 L764 1164 L748.25 1161.75 Z"/>
<path d="M738 1204 L712.25 1187.5 L732.5 1186 L742 1204"/>
<path d="M806 1139.5 L787 1112.25 L785.75 1132.5 L806 1143.5"/>
</g>

</svg>
</body>
</html>
